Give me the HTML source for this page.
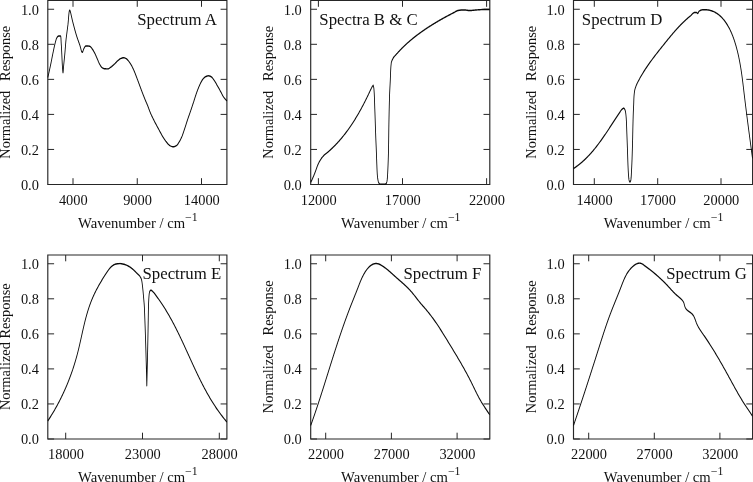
<!DOCTYPE html>
<html lang="en">
<head>
<meta charset="utf-8">
<title>Normalized response spectra A–G</title>
<style>
html,body{margin:0;padding:0;background:#fff;}
body{width:753px;height:482px;overflow:hidden;}
svg{display:block;will-change:transform;filter:grayscale(1);}
svg text{font-family:"Liberation Serif",serif;fill:#111;}
</style>
</head>
<body>
<svg width="753" height="482" viewBox="0 0 753 482">
<rect width="753" height="482" fill="#fff"/>
<g id="panel-A">
<path d="M47.80 0.50H226.90V184.50H47.80Z" fill="none" stroke="#262626" stroke-width="1.15" stroke-linejoin="miter"/>
<path d="M73.00 184.50v-6.3M73.00 0.50v6.3M137.25 184.50v-6.3M137.25 0.50v6.3M201.50 184.50v-6.3M201.50 0.50v6.3M47.80 184.50h6.3M226.90 184.50h-6.3M47.80 149.45h6.3M226.90 149.45h-6.3M47.80 114.40h6.3M226.90 114.40h-6.3M47.80 79.36h6.3M226.90 79.36h-6.3M47.80 44.31h6.3M226.90 44.31h-6.3M47.80 9.26h6.3M226.90 9.26h-6.3" fill="none" stroke="#262626" stroke-width="1.0" stroke-linecap="butt"/>
<g font-size="14.4" text-anchor="end">
<text x="38.90" y="189.80">0.0</text>
<text x="38.90" y="154.75">0.2</text>
<text x="38.90" y="119.70">0.4</text>
<text x="38.90" y="84.66">0.6</text>
<text x="38.90" y="49.61">0.8</text>
<text x="38.90" y="14.56">1.0</text>
</g>
<g font-size="14.4" text-anchor="middle">
<text x="73.30" y="204.70">4000</text>
<text x="137.55" y="204.70">9000</text>
<text x="201.80" y="204.70">14000</text>
</g>
<text x="137.85" y="227.50" font-size="14.65" text-anchor="middle">Wavenumber / cm<tspan font-size="11.8" dy="-6.7">−1</tspan></text>
<text transform="translate(10.20 92.20) rotate(-90)" font-size="14.4" text-anchor="middle" word-spacing="6.2">Normalized Response</text>
<text x="216.90" y="24.65" font-size="16.8" text-anchor="end">Spectrum A</text>
<g transform="scale(0.6 1)"><path d="M79.67 77.50L79.89 76.91L80.12 76.33L80.35 75.74L80.57 75.16L80.79 74.57L81.02 73.98L81.24 73.40L81.46 72.81L81.68 72.23L81.90 71.64L82.12 71.05L82.33 70.46L82.55 69.88L82.76 69.29L82.98 68.70L83.19 68.12L83.40 67.53L83.61 66.94L83.82 66.35L84.03 65.76L84.24 65.18L84.44 64.59L84.65 64.00L84.85 63.41L85.05 62.82L85.24 62.23L85.44 61.64L85.63 61.05L85.82 60.46L86.02 59.87L86.21 59.28L86.40 58.69L86.59 58.10L86.78 57.51L86.97 56.92L87.17 56.33L87.36 55.74L87.56 55.15L87.76 54.56L87.96 53.98L88.16 53.39L88.37 52.80L88.57 52.21L88.78 51.62L88.98 51.03L89.18 50.44L89.39 49.85L89.59 49.26L89.79 48.67L90.00 48.08L90.21 47.49L90.42 46.91L90.64 46.32L90.86 45.73L91.09 45.15L91.32 44.56L91.56 43.98L91.81 43.40L92.07 42.82L92.33 42.24L92.58 41.64L92.84 41.03L93.11 40.42L93.39 39.82L93.70 39.23L94.04 38.67L94.42 38.14L94.85 37.65L95.37 37.17L96.08 36.66L96.92 36.23L97.80 36.01L98.85 36.00L100.08 36.00L100.82 36.00L101.02 36.09L101.19 36.35L101.33 36.76L101.45 37.30L101.54 37.93L101.62 38.65L101.69 39.41L101.76 40.21L101.81 41.00L101.87 41.77L101.93 42.50L101.99 43.15L102.06 43.75L102.13 44.35L102.20 44.95L102.26 45.55L102.32 46.15L102.37 46.75L102.43 47.35L102.48 47.95L102.53 48.55L102.59 49.15L102.64 49.75L102.69 50.35L102.74 50.95L102.79 51.55L102.83 52.15L102.88 52.75L102.94 53.35L102.99 53.95L103.04 54.55L103.09 55.15L103.14 55.76L103.18 56.36L103.23 56.96L103.28 57.56L103.32 58.16L103.37 58.76L103.41 59.36L103.45 59.96L103.50 60.56L103.55 61.16L103.59 61.76L103.64 62.36L103.69 62.96L103.75 63.56L103.80 64.16L103.86 64.76L103.92 65.36L103.98 65.96L104.05 66.59L104.13 67.30L104.21 68.07L104.30 68.87L104.40 69.66L104.49 70.42L104.59 71.11L104.69 71.72L104.79 72.21L104.88 72.54L104.98 72.69L105.07 72.64L105.16 72.39L105.25 71.98L105.34 71.43L105.43 70.78L105.52 70.05L105.61 69.27L105.70 68.47L105.79 67.69L105.88 66.94L105.97 66.27L106.07 65.67L106.17 65.07L106.26 64.47L106.36 63.87L106.46 63.27L106.56 62.68L106.67 62.08L106.77 61.48L106.87 60.88L106.97 60.28L107.08 59.69L107.18 59.09L107.28 58.49L107.38 57.89L107.48 57.29L107.58 56.70L107.68 56.10L107.78 55.50L107.88 54.90L107.97 54.30L108.06 53.70L108.15 53.11L108.24 52.51L108.32 51.91L108.40 51.31L108.49 50.71L108.57 50.11L108.65 49.51L108.72 48.91L108.80 48.31L108.88 47.71L108.96 47.11L109.04 46.51L109.12 45.91L109.20 45.31L109.28 44.71L109.36 44.12L109.45 43.52L109.54 42.92L109.63 42.32L109.72 41.72L109.81 41.12L109.91 40.52L110.01 39.93L110.12 39.33L110.23 38.73L110.35 38.14L110.47 37.54L110.59 36.94L110.72 36.35L110.85 35.75L110.98 35.15L111.11 34.56L111.24 33.96L111.37 33.36L111.50 32.77L111.63 32.17L111.76 31.58L111.88 30.98L112.01 30.38L112.14 29.79L112.27 29.19L112.40 28.59L112.53 28.00L112.66 27.40L112.78 26.81L112.91 26.21L113.04 25.61L113.16 25.02L113.29 24.40L113.40 23.74L113.52 23.04L113.63 22.31L113.74 21.56L113.85 20.79L113.96 20.00L114.07 19.21L114.17 18.41L114.28 17.62L114.38 16.84L114.49 16.07L114.60 15.33L114.71 14.61L114.83 13.93L114.94 13.28L115.06 12.68L115.18 12.14L115.31 11.64L115.44 11.21L115.58 10.85L115.73 10.56L115.88 10.36L116.03 10.23L116.20 10.20L116.37 10.28L116.56 10.46L116.77 10.74L116.99 11.12L117.22 11.57L117.47 12.09L117.72 12.68L117.98 13.32L118.24 14.00L118.52 14.72L118.79 15.47L119.07 16.24L119.35 17.01L119.64 17.78L119.92 18.55L120.20 19.30L120.47 20.02L120.74 20.70L121.01 21.34L121.27 21.93L121.53 22.51L121.78 23.10L122.04 23.68L122.29 24.26L122.55 24.84L122.80 25.42L123.05 26.00L123.31 26.59L123.56 27.17L123.82 27.75L124.08 28.33L124.33 28.91L124.59 29.49L124.86 30.07L125.12 30.65L125.39 31.23L125.66 31.81L125.93 32.39L126.21 32.97L126.49 33.54L126.77 34.12L127.06 34.69L127.36 35.27L127.66 35.84L127.96 36.41L128.27 36.98L128.59 37.55L128.91 38.12L129.23 38.69L129.56 39.26L129.89 39.83L130.22 40.40L130.56 40.96L130.89 41.53L131.23 42.10L131.56 42.66L131.90 43.23L132.23 43.80L132.57 44.36L132.90 44.93L133.22 45.50L133.55 46.13L133.87 46.82L134.19 47.55L134.51 48.31L134.83 49.06L135.15 49.78L135.47 50.46L135.80 51.07L136.13 51.57L136.47 51.97L136.82 52.21L137.18 52.30L137.53 52.15L137.89 51.76L138.25 51.19L138.62 50.51L139.01 49.78L139.43 49.06L139.89 48.41L140.39 47.88L140.95 47.28L141.59 46.70L142.28 46.23L143.03 46.01L143.87 46.00L144.87 46.02L145.94 46.05L147.04 46.09L148.08 46.13L149.02 46.19L149.83 46.31L150.61 46.60L151.35 47.01L152.05 47.50L152.72 48.05L153.35 48.60L153.96 49.13L154.54 49.61L155.09 50.11L155.61 50.62L156.12 51.14L156.60 51.67L157.07 52.21L157.53 52.75L157.99 53.29L158.43 53.82L158.87 54.36L159.28 54.91L159.69 55.46L160.09 56.01L160.49 56.56L160.88 57.12L161.28 57.67L161.67 58.22L162.07 58.78L162.48 59.33L162.87 59.88L163.25 60.44L163.63 61.01L164.01 61.57L164.40 62.12L164.81 62.67L165.23 63.22L165.67 63.75L166.14 64.27L166.64 64.80L167.16 65.34L167.71 65.88L168.29 66.41L168.91 66.89L169.57 67.32L170.28 67.68L171.07 67.98L171.98 68.26L172.96 68.50L173.94 68.66L174.92 68.74L175.92 68.80L176.95 68.85L177.96 68.88L178.95 68.90L179.89 68.87L180.81 68.69L181.71 68.41L182.59 68.05L183.45 67.67L184.28 67.32L185.10 66.98L185.90 66.63L186.68 66.25L187.45 65.86L188.21 65.46L188.96 65.05L189.70 64.65L190.44 64.24L191.16 63.83L191.87 63.40L192.56 62.96L193.25 62.52L193.94 62.08L194.64 61.65L195.35 61.23L196.09 60.83L196.85 60.43L197.62 60.03L198.40 59.63L199.21 59.25L200.03 58.91L200.89 58.62L201.77 58.39L202.72 58.17L203.70 57.97L204.69 57.81L205.67 57.71L206.63 57.72L207.60 57.85L208.56 58.09L209.50 58.38L210.37 58.69L211.16 59.00L211.91 59.39L212.61 59.83L213.29 60.30L213.93 60.78L214.57 61.25L215.18 61.72L215.77 62.21L216.34 62.70L216.90 63.21L217.44 63.71L217.96 64.23L218.47 64.74L218.97 65.26L219.45 65.79L219.92 66.32L220.38 66.86L220.83 67.40L221.27 67.93L221.70 68.48L222.12 69.02L222.54 69.57L222.94 70.12L223.34 70.67L223.74 71.23L224.13 71.78L224.51 72.34L224.88 72.89L225.24 73.45L225.61 74.01L225.96 74.58L226.32 75.14L226.68 75.70L227.04 76.26L227.40 76.82L227.76 77.38L228.12 77.94L228.47 78.51L228.83 79.07L229.18 79.63L229.54 80.19L229.89 80.76L230.24 81.32L230.59 81.88L230.94 82.45L231.28 83.01L231.62 83.57L231.97 84.14L232.31 84.70L232.66 85.27L233.00 85.83L233.35 86.40L233.70 86.96L234.04 87.52L234.39 88.09L234.74 88.65L235.09 89.22L235.44 89.78L235.79 90.34L236.15 90.90L236.50 91.47L236.86 92.03L237.22 92.59L237.58 93.15L237.94 93.71L238.30 94.27L238.66 94.83L239.03 95.39L239.40 95.95L239.77 96.51L240.14 97.07L240.51 97.63L240.88 98.18L241.26 98.74L241.64 99.30L242.01 99.85L242.40 100.41L242.78 100.97L243.17 101.52L243.57 102.07L243.97 102.62L244.37 103.17L244.77 103.72L245.16 104.28L245.55 104.83L245.93 105.39L246.30 105.95L246.66 106.51L247.01 107.07L247.37 107.63L247.71 108.20L248.06 108.76L248.41 109.33L248.76 109.89L249.11 110.46L249.47 111.02L249.83 111.58L250.20 112.14L250.57 112.69L250.96 113.24L251.36 113.80L251.76 114.34L252.18 114.89L252.59 115.44L253.02 115.98L253.45 116.52L253.88 117.07L254.32 117.61L254.77 118.15L255.21 118.69L255.66 119.22L256.11 119.76L256.57 120.30L257.02 120.84L257.47 121.37L257.93 121.91L258.39 122.44L258.85 122.97L259.31 123.51L259.78 124.04L260.25 124.57L260.73 125.10L261.20 125.63L261.68 126.16L262.16 126.68L262.64 127.21L263.12 127.74L263.60 128.27L264.07 128.80L264.55 129.33L265.02 129.86L265.49 130.39L265.96 130.92L266.43 131.45L266.90 131.99L267.37 132.52L267.84 133.05L268.32 133.58L268.81 134.10L269.30 134.63L269.79 135.15L270.30 135.67L270.81 136.18L271.33 136.69L271.86 137.20L272.39 137.72L272.93 138.23L273.47 138.74L274.02 139.24L274.59 139.74L275.16 140.24L275.74 140.73L276.33 141.21L276.94 141.68L277.56 142.15L278.20 142.62L278.84 143.10L279.51 143.58L280.19 144.05L280.89 144.49L281.62 144.90L282.38 145.26L283.18 145.56L284.04 145.86L284.96 146.15L285.92 146.41L286.90 146.62L287.87 146.76L288.82 146.80L289.79 146.72L290.78 146.55L291.77 146.31L292.72 146.03L293.59 145.72L294.36 145.42L295.07 145.05L295.73 144.62L296.35 144.13L296.94 143.61L297.50 143.08L298.05 142.54L298.58 142.03L299.09 141.52L299.59 141.00L300.08 140.47L300.55 139.94L301.01 139.40L301.45 138.86L301.88 138.31L302.30 137.76L302.71 137.21L303.10 136.66L303.48 136.11L303.84 135.55L304.20 134.99L304.54 134.43L304.88 133.86L305.21 133.29L305.54 132.72L305.86 132.15L306.18 131.58L306.49 131.01L306.81 130.43L307.13 129.86L307.45 129.29L307.77 128.72L308.08 128.15L308.39 127.58L308.70 127.01L309.01 126.44L309.31 125.87L309.62 125.29L309.92 124.72L310.22 124.15L310.52 123.57L310.83 123.00L311.13 122.43L311.43 121.85L311.74 121.28L312.05 120.71L312.37 120.14L312.68 119.57L313.00 119.00L313.33 118.43L313.66 117.86L313.99 117.30L314.32 116.73L314.65 116.16L314.98 115.59L315.32 115.03L315.65 114.46L315.99 113.89L316.32 113.33L316.65 112.76L316.98 112.19L317.31 111.62L317.64 111.06L317.96 110.49L318.28 109.92L318.60 109.35L318.92 108.78L319.24 108.21L319.56 107.64L319.87 107.07L320.19 106.50L320.51 105.93L320.82 105.36L321.14 104.78L321.45 104.21L321.76 103.64L322.08 103.07L322.39 102.50L322.70 101.93L323.02 101.36L323.32 100.79L323.63 100.21L323.93 99.64L324.23 99.07L324.54 98.49L324.84 97.92L325.14 97.35L325.44 96.77L325.75 96.20L326.06 95.63L326.37 95.06L326.69 94.49L327.01 93.92L327.34 93.35L327.68 92.79L328.01 92.22L328.36 91.66L328.70 91.09L329.05 90.53L329.40 89.96L329.76 89.40L330.12 88.84L330.49 88.28L330.87 87.72L331.25 87.16L331.64 86.61L332.04 86.06L332.44 85.51L332.86 84.97L333.28 84.42L333.71 83.87L334.14 83.31L334.58 82.76L335.03 82.21L335.50 81.67L335.98 81.14L336.49 80.62L337.02 80.12L337.58 79.64L338.16 79.18L338.80 78.71L339.48 78.24L340.21 77.79L340.97 77.36L341.77 76.98L342.59 76.67L343.44 76.43L344.37 76.21L345.35 76.01L346.36 75.87L347.35 75.80L348.32 75.85L349.32 76.00L350.31 76.23L351.23 76.50L352.04 76.77L352.78 77.10L353.48 77.50L354.15 77.96L354.78 78.46L355.39 78.97L355.98 79.50L356.56 80.02L357.13 80.51L357.69 81.01L358.23 81.51L358.76 82.02L359.27 82.54L359.77 83.06L360.27 83.59L360.76 84.11L361.26 84.64L361.75 85.16L362.25 85.69L362.75 86.21L363.25 86.73L363.74 87.25L364.23 87.78L364.72 88.30L365.21 88.82L365.70 89.35L366.19 89.88L366.67 90.40L367.16 90.93L367.64 91.45L368.11 91.99L368.58 92.52L369.03 93.06L369.48 93.60L369.94 94.14L370.40 94.68L370.87 95.21L371.36 95.74L371.86 96.25L372.39 96.75L372.95 97.24L373.54 97.73L374.15 98.20L374.79 98.67L375.46 99.13L376.14 99.57L376.84 100.00L377.56 100.41L378.33 100.80" fill="none" stroke="#0a0a0a" stroke-width="1.45" stroke-linejoin="round" stroke-linecap="butt"/></g>
</g>
<g id="panel-B">
<path d="M310.70 0.50H489.80V184.50H310.70Z" fill="none" stroke="#262626" stroke-width="1.15" stroke-linejoin="miter"/>
<path d="M318.40 184.50v-6.3M318.40 0.50v6.3M402.50 184.50v-6.3M402.50 0.50v6.3M486.60 184.50v-6.3M486.60 0.50v6.3M310.70 184.50h6.3M489.80 184.50h-6.3M310.70 149.45h6.3M489.80 149.45h-6.3M310.70 114.40h6.3M489.80 114.40h-6.3M310.70 79.36h6.3M489.80 79.36h-6.3M310.70 44.31h6.3M489.80 44.31h-6.3M310.70 9.26h6.3M489.80 9.26h-6.3" fill="none" stroke="#262626" stroke-width="1.0" stroke-linecap="butt"/>
<g font-size="14.4" text-anchor="end">
<text x="301.80" y="189.80">0.0</text>
<text x="301.80" y="154.75">0.2</text>
<text x="301.80" y="119.70">0.4</text>
<text x="301.80" y="84.66">0.6</text>
<text x="301.80" y="49.61">0.8</text>
<text x="301.80" y="14.56">1.0</text>
</g>
<g font-size="14.4" text-anchor="middle">
<text x="318.70" y="204.70">12000</text>
<text x="402.80" y="204.70">17000</text>
<text x="486.90" y="204.70">22000</text>
</g>
<text x="400.75" y="227.50" font-size="14.65" text-anchor="middle">Wavenumber / cm<tspan font-size="11.8" dy="-6.7">−1</tspan></text>
<text transform="translate(273.10 92.20) rotate(-90)" font-size="14.4" text-anchor="middle" word-spacing="6.2">Normalized Response</text>
<text x="319.30" y="24.65" font-size="16.8" text-anchor="start">Spectra B &amp; C</text>
<g transform="scale(0.6 1)"><path d="M517.83 182.40L518.28 181.86L518.73 181.32L519.17 180.77L519.60 180.23L520.03 179.68L520.45 179.13L520.87 178.58L521.28 178.02L521.68 177.47L522.07 176.91L522.46 176.36L522.85 175.80L523.23 175.24L523.61 174.68L523.98 174.12L524.36 173.55L524.73 172.99L525.09 172.43L525.46 171.86L525.82 171.30L526.17 170.73L526.51 170.16L526.84 169.59L527.17 169.01L527.50 168.44L527.84 167.87L528.17 167.30L528.52 166.73L528.87 166.16L529.23 165.60L529.61 165.04L530.01 164.49L530.42 163.94L530.85 163.39L531.29 162.85L531.75 162.30L532.22 161.76L532.71 161.23L533.21 160.70L533.72 160.19L534.25 159.68L534.80 159.17L535.36 158.67L535.95 158.18L536.56 157.69L537.19 157.21L537.83 156.74L538.49 156.27L539.16 155.83L539.84 155.39L540.56 154.98L541.30 154.58L542.08 154.19L542.87 153.82L543.67 153.44L544.48 153.07L545.28 152.70L546.07 152.31L546.83 151.92L547.59 151.52L548.35 151.12L549.10 150.72L549.85 150.32L550.59 149.91L551.33 149.50L552.06 149.08L552.79 148.66L553.52 148.25L554.25 147.83L554.97 147.40L555.69 146.98L556.41 146.55L557.12 146.13L557.83 145.70L558.54 145.26L559.24 144.83L559.94 144.39L560.63 143.96L561.32 143.52L562.01 143.08L562.69 142.63L563.37 142.18L564.05 141.74L564.72 141.29L565.39 140.83L566.06 140.38L566.72 139.92L567.38 139.46L568.04 139.00L568.69 138.54L569.34 138.08L569.99 137.61L570.63 137.15L571.26 136.68L571.90 136.21L572.53 135.74L573.16 135.27L573.78 134.79L574.41 134.32L575.03 133.84L575.64 133.36L576.25 132.88L576.86 132.40L577.47 131.91L578.07 131.43L578.67 130.94L579.27 130.45L579.86 129.96L580.45 129.47L581.03 128.98L581.62 128.49L582.20 128.00L582.78 127.50L583.35 127.00L583.92 126.50L584.49 126.00L585.06 125.50L585.62 125.00L586.18 124.50L586.74 123.99L587.29 123.49L587.84 122.98L588.39 122.47L588.94 121.97L589.48 121.46L590.02 120.95L590.56 120.44L591.09 119.92L591.62 119.41L592.15 118.89L592.68 118.38L593.20 117.86L593.73 117.34L594.24 116.82L594.76 116.30L595.28 115.78L595.79 115.26L596.30 114.74L596.80 114.22L597.31 113.69L597.81 113.17L598.31 112.65L598.81 112.12L599.30 111.59L599.80 111.07L600.29 110.54L600.78 110.01L601.26 109.48L601.75 108.95L602.23 108.42L602.71 107.88L603.19 107.35L603.66 106.82L604.13 106.28L604.61 105.75L605.08 105.21L605.54 104.68L606.01 104.14L606.47 103.61L606.94 103.07L607.40 102.53L607.85 101.99L608.31 101.45L608.76 100.91L609.22 100.37L609.67 99.83L610.12 99.29L610.56 98.75L611.01 98.20L611.45 97.66L611.90 97.12L612.34 96.57L612.78 96.03L613.22 95.49L613.66 94.94L614.10 94.40L614.52 93.85L614.95 93.30L615.37 92.75L615.79 92.20L616.21 91.65L616.63 91.10L617.06 90.55L617.49 90.01L617.93 89.46L618.39 88.92L618.84 88.38L619.29 87.84L619.76 87.30L620.25 86.77L620.77 86.26L621.36 85.77L622.00 85.30L622.23 85.89L622.48 86.48L622.71 87.07L622.92 87.66L623.08 88.25L623.19 88.84L623.27 89.44L623.35 90.03L623.42 90.63L623.49 91.23L623.56 91.82L623.62 92.42L623.68 93.02L623.74 93.62L623.79 94.22L623.84 94.82L623.89 95.42L623.93 96.03L623.97 96.63L624.02 97.23L624.05 97.83L624.09 98.44L624.13 99.04L624.16 99.65L624.19 100.25L624.23 100.85L624.26 101.46L624.29 102.06L624.32 102.67L624.35 103.27L624.38 103.87L624.41 104.48L624.44 105.08L624.47 105.69L624.51 106.29L624.54 106.89L624.57 107.49L624.61 108.10L624.65 108.70L624.69 109.30L624.72 109.90L624.76 110.51L624.80 111.11L624.84 111.71L624.87 112.31L624.91 112.91L624.95 113.51L624.98 114.12L625.02 114.72L625.05 115.32L625.09 115.92L625.12 116.52L625.15 117.13L625.19 117.73L625.22 118.33L625.25 118.93L625.29 119.53L625.32 120.14L625.35 120.74L625.39 121.34L625.42 121.94L625.45 122.54L625.48 123.15L625.51 123.75L625.55 124.35L625.58 124.95L625.61 125.55L625.64 126.16L625.68 126.76L625.71 127.36L625.74 127.96L625.77 128.57L625.81 129.17L625.84 129.77L625.87 130.37L625.91 130.97L625.94 131.58L625.98 132.18L626.01 132.78L626.05 133.38L626.08 133.98L626.12 134.58L626.15 135.19L626.19 135.79L626.23 136.39L626.26 136.99L626.30 137.59L626.34 138.20L626.38 138.80L626.42 139.40L626.46 140.00L626.50 140.60L626.54 141.21L626.59 141.81L626.63 142.41L626.67 143.01L626.72 143.61L626.76 144.21L626.80 144.82L626.85 145.42L626.89 146.02L626.93 146.62L626.98 147.22L627.02 147.82L627.06 148.43L627.10 149.03L627.14 149.63L627.18 150.23L627.22 150.83L627.26 151.44L627.29 152.04L627.33 152.64L627.37 153.24L627.40 153.84L627.44 154.45L627.47 155.05L627.51 155.65L627.54 156.25L627.57 156.85L627.61 157.46L627.64 158.06L627.68 158.66L627.71 159.26L627.75 159.86L627.79 160.47L627.82 161.07L627.86 161.67L627.90 162.27L627.94 162.87L627.98 163.47L628.02 164.08L628.06 164.68L628.10 165.28L628.14 165.88L628.17 166.49L628.21 167.09L628.25 167.69L628.29 168.29L628.33 168.90L628.37 169.50L628.42 170.10L628.46 170.70L628.51 171.30L628.56 171.91L628.62 172.51L628.68 173.11L628.74 173.71L628.81 174.31L628.88 174.91L628.97 175.51L629.06 176.12L629.16 176.73L629.27 177.34L629.39 177.94L629.53 178.54L629.69 179.14L629.86 179.73L630.04 180.31L630.25 180.88L630.49 181.47L630.83 182.13L631.26 182.80L631.77 183.39L632.34 183.82L632.96 184.02L633.78 184.12L634.78 184.20L635.87 184.26L636.99 184.29L638.03 184.30L639.11 184.28L640.25 184.24L641.33 184.17L642.26 184.08L642.94 183.97L643.50 183.67L644.00 183.14L644.43 182.49L644.76 181.79L644.99 181.15L645.13 180.58L645.26 180.00L645.37 179.42L645.48 178.83L645.58 178.23L645.66 177.63L645.74 177.03L645.82 176.43L645.89 175.82L645.95 175.21L646.00 174.60L646.06 173.99L646.11 173.38L646.16 172.77L646.20 172.16L646.25 171.55L646.30 170.95L646.35 170.34L646.39 169.74L646.44 169.14L646.49 168.54L646.53 167.94L646.58 167.34L646.62 166.73L646.66 166.13L646.71 165.53L646.75 164.93L646.79 164.33L646.83 163.73L646.86 163.12L646.90 162.52L646.94 161.92L646.97 161.32L647.01 160.72L647.04 160.11L647.08 159.51L647.11 158.91L647.14 158.31L647.17 157.70L647.20 157.10L647.23 156.50L647.26 155.90L647.29 155.30L647.31 154.69L647.34 154.09L647.36 153.49L647.39 152.89L647.41 152.28L647.44 151.68L647.46 151.08L647.48 150.48L647.50 149.88L647.53 149.27L647.55 148.67L647.57 148.07L647.58 147.47L647.60 146.86L647.62 146.26L647.64 145.66L647.65 145.06L647.67 144.46L647.69 143.85L647.70 143.25L647.72 142.65L647.73 142.05L647.75 141.44L647.76 140.84L647.77 140.24L647.79 139.64L647.80 139.04L647.81 138.43L647.83 137.83L647.84 137.23L647.85 136.63L647.87 136.02L647.88 135.42L647.89 134.82L647.90 134.22L647.92 133.61L647.93 133.01L647.94 132.41L647.96 131.81L647.97 131.21L647.98 130.60L648.00 130.00L648.01 129.40L648.03 128.80L648.04 128.19L648.05 127.59L648.07 126.99L648.09 126.39L648.10 125.79L648.12 125.18L648.14 124.58L648.16 123.98L648.17 123.38L648.19 122.77L648.21 122.17L648.23 121.57L648.25 120.97L648.27 120.37L648.29 119.76L648.31 119.16L648.33 118.56L648.35 117.96L648.37 117.35L648.39 116.75L648.41 116.15L648.43 115.55L648.45 114.94L648.47 114.34L648.49 113.74L648.51 113.14L648.53 112.54L648.55 111.93L648.57 111.33L648.60 110.73L648.62 110.13L648.64 109.52L648.66 108.92L648.69 108.32L648.71 107.72L648.74 107.12L648.76 106.51L648.79 105.91L648.81 105.31L648.84 104.71L648.86 104.11L648.89 103.50L648.91 102.90L648.94 102.30L648.97 101.70L649.00 101.09L649.03 100.49L649.05 99.89L649.08 99.29L649.11 98.69L649.14 98.08L649.17 97.48L649.21 96.88L649.24 96.28L649.27 95.68L649.30 95.07L649.33 94.47L649.37 93.87L649.41 93.27L649.45 92.67L649.49 92.07L649.53 91.46L649.58 90.86L649.63 90.26L649.68 89.66L649.73 89.06L649.78 88.46L649.83 87.85L649.88 87.25L649.94 86.65L649.99 86.05L650.04 85.45L650.10 84.85L650.15 84.25L650.20 83.64L650.25 83.04L650.31 82.44L650.36 81.84L650.40 81.24L650.45 80.64L650.50 80.03L650.54 79.43L650.58 78.83L650.62 78.23L650.66 77.63L650.70 77.02L650.73 76.42L650.77 75.82L650.80 75.22L650.84 74.62L650.88 74.01L650.91 73.41L650.95 72.81L650.99 72.21L651.03 71.61L651.07 71.00L651.12 70.40L651.17 69.80L651.22 69.20L651.28 68.60L651.33 68.00L651.40 67.40L651.47 66.80L651.56 66.20L651.65 65.60L651.75 65.00L651.85 64.40L651.95 63.80L652.06 63.20L652.17 62.60L652.45 62.00L652.77 61.42L653.11 60.84L653.49 60.28L653.89 59.72L654.32 59.18L654.77 58.66L655.24 58.15L655.77 57.65L656.34 57.17L656.96 56.70L657.61 56.23L658.29 55.77L658.98 55.32L659.68 54.87L660.38 54.42L661.07 53.97L661.74 53.52L662.41 53.07L663.08 52.62L663.75 52.17L664.43 51.73L665.11 51.28L665.80 50.84L666.49 50.40L667.18 49.96L667.88 49.52L668.58 49.09L669.28 48.66L669.99 48.23L670.70 47.80L671.41 47.38L672.13 46.95L672.85 46.53L673.57 46.11L674.30 45.69L675.03 45.28L675.76 44.86L676.50 44.45L677.24 44.04L677.99 43.64L678.73 43.23L679.48 42.83L680.23 42.43L680.99 42.03L681.74 41.63L682.50 41.24L683.27 40.84L684.03 40.45L684.80 40.06L685.57 39.67L686.35 39.29L687.13 38.90L687.91 38.52L688.69 38.14L689.47 37.76L690.26 37.38L691.05 37.01L691.84 36.64L692.63 36.27L693.43 35.90L694.23 35.53L695.03 35.16L695.83 34.80L696.63 34.44L697.44 34.07L698.25 33.72L699.06 33.36L699.87 33.00L700.69 32.65L701.50 32.29L702.32 31.94L703.14 31.59L703.96 31.24L704.79 30.90L705.61 30.55L706.44 30.21L707.27 29.87L708.10 29.53L708.94 29.19L709.77 28.85L710.61 28.52L711.45 28.18L712.29 27.85L713.13 27.52L713.97 27.19L714.81 26.86L715.66 26.53L716.51 26.21L717.35 25.88L718.20 25.56L719.06 25.24L719.91 24.92L720.76 24.60L721.62 24.28L722.48 23.96L723.34 23.65L724.20 23.33L725.06 23.02L725.92 22.71L726.78 22.40L727.64 22.09L728.51 21.78L729.38 21.47L730.24 21.17L731.11 20.86L731.98 20.56L732.86 20.26L733.73 19.96L734.60 19.66L735.48 19.36L736.35 19.06L737.23 18.76L738.11 18.47L738.98 18.17L739.86 17.88L740.74 17.59L741.62 17.30L742.51 17.01L743.39 16.72L744.28 16.43L745.16 16.14L746.05 15.86L746.93 15.57L747.82 15.29L748.71 15.00L749.60 14.72L750.49 14.44L751.38 14.16L752.27 13.88L753.16 13.60L754.06 13.32L754.95 13.05L755.85 12.77L756.74 12.49L757.63 12.19L758.51 11.86L759.40 11.54L760.29 11.23L761.18 10.94L762.09 10.71L763.02 10.54L763.97 10.43L764.94 10.33L765.92 10.24L766.92 10.16L767.93 10.09L768.95 10.02L769.97 9.97L770.99 9.93L772.00 9.91L773.01 9.90L774.01 9.92L775.01 9.97L776.01 10.05L777.01 10.14L778.01 10.23L779.01 10.33L780.01 10.41L781.01 10.47L782.01 10.50L783.01 10.50L784.02 10.48L785.02 10.45L786.02 10.41L787.02 10.36L788.03 10.30L789.03 10.24L790.03 10.18L791.04 10.11L792.04 10.05L793.04 9.99L794.05 9.94L795.05 9.90L796.06 9.86L797.06 9.81L798.07 9.77L799.07 9.73L800.07 9.68L801.08 9.64L802.08 9.60L803.09 9.57L804.09 9.54L805.10 9.52L806.10 9.51L807.11 9.50L808.12 9.50L809.12 9.50L810.13 9.50L811.13 9.50L812.14 9.50L813.15 9.50L814.15 9.50L815.16 9.50L816.17 9.50" fill="none" stroke="#0a0a0a" stroke-width="1.45" stroke-linejoin="round" stroke-linecap="butt"/></g>
</g>
<g id="panel-D">
<path d="M573.50 0.50H752.60V184.50H573.50Z" fill="none" stroke="#262626" stroke-width="1.15" stroke-linejoin="miter"/>
<path d="M594.30 184.50v-6.3M594.30 0.50v6.3M657.70 184.50v-6.3M657.70 0.50v6.3M721.00 184.50v-6.3M721.00 0.50v6.3M573.50 184.50h6.3M752.60 184.50h-6.3M573.50 149.45h6.3M752.60 149.45h-6.3M573.50 114.40h6.3M752.60 114.40h-6.3M573.50 79.36h6.3M752.60 79.36h-6.3M573.50 44.31h6.3M752.60 44.31h-6.3M573.50 9.26h6.3M752.60 9.26h-6.3" fill="none" stroke="#262626" stroke-width="1.0" stroke-linecap="butt"/>
<g font-size="14.4" text-anchor="end">
<text x="564.60" y="189.80">0.0</text>
<text x="564.60" y="154.75">0.2</text>
<text x="564.60" y="119.70">0.4</text>
<text x="564.60" y="84.66">0.6</text>
<text x="564.60" y="49.61">0.8</text>
<text x="564.60" y="14.56">1.0</text>
</g>
<g font-size="14.4" text-anchor="middle">
<text x="594.60" y="204.70">14000</text>
<text x="658.00" y="204.70">17000</text>
<text x="721.30" y="204.70">20000</text>
</g>
<text x="663.55" y="227.50" font-size="14.65" text-anchor="middle">Wavenumber / cm<tspan font-size="11.8" dy="-6.7">−1</tspan></text>
<text transform="translate(535.90 92.20) rotate(-90)" font-size="14.4" text-anchor="middle" word-spacing="6.2">Normalized Response</text>
<text x="581.80" y="24.65" font-size="16.8" text-anchor="start">Spectrum D</text>
<g transform="scale(0.6 1)"><path d="M955.83 168.60L956.67 168.26L957.50 167.92L958.32 167.58L959.14 167.23L959.96 166.88L960.77 166.53L961.57 166.17L962.38 165.81L963.17 165.44L963.97 165.08L964.75 164.71L965.54 164.33L966.32 163.96L967.09 163.58L967.86 163.20L968.63 162.81L969.39 162.42L970.14 162.02L970.90 161.62L971.64 161.22L972.39 160.81L973.12 160.41L973.86 160.00L974.59 159.58L975.31 159.17L976.03 158.75L976.75 158.33L977.46 157.91L978.17 157.48L978.87 157.05L979.57 156.62L980.26 156.19L980.95 155.75L981.64 155.31L982.32 154.87L983.00 154.43L983.68 153.99L984.35 153.54L985.02 153.09L985.68 152.64L986.34 152.19L986.99 151.73L987.64 151.28L988.29 150.82L988.94 150.36L989.58 149.89L990.22 149.43L990.85 148.96L991.49 148.50L992.11 148.03L992.74 147.56L993.36 147.09L993.98 146.62L994.60 146.14L995.21 145.67L995.82 145.19L996.42 144.71L997.03 144.23L997.63 143.75L998.23 143.27L998.82 142.78L999.42 142.30L1000.01 141.81L1000.60 141.33L1001.19 140.84L1001.77 140.35L1002.36 139.86L1002.93 139.37L1003.51 138.88L1004.09 138.39L1004.66 137.89L1005.23 137.40L1005.80 136.91L1006.37 136.41L1006.94 135.91L1007.50 135.42L1008.07 134.92L1008.63 134.42L1009.19 133.93L1009.75 133.43L1010.31 132.93L1010.87 132.43L1011.43 131.93L1011.98 131.43L1012.53 130.93L1013.08 130.42L1013.64 129.92L1014.19 129.42L1014.74 128.92L1015.28 128.41L1015.83 127.91L1016.38 127.41L1016.93 126.90L1017.48 126.40L1018.03 125.90L1018.58 125.40L1019.13 124.89L1019.68 124.39L1020.22 123.89L1020.77 123.38L1021.32 122.88L1021.86 122.37L1022.41 121.87L1022.96 121.37L1023.50 120.86L1024.05 120.36L1024.60 119.86L1025.15 119.35L1025.70 118.85L1026.25 118.35L1026.80 117.85L1027.36 117.34L1027.91 116.84L1028.46 116.34L1029.01 115.84L1029.57 115.34L1030.12 114.84L1030.68 114.34L1031.24 113.84L1031.81 113.34L1032.38 112.85L1032.95 112.35L1033.51 111.84L1034.06 111.32L1034.62 110.80L1035.20 110.30L1035.81 109.83L1036.47 109.40L1037.20 109.01L1038.07 108.59L1038.97 108.27L1039.75 108.23L1040.51 108.60L1041.17 109.19L1041.59 109.74L1041.90 110.28L1042.16 110.85L1042.39 111.44L1042.58 112.05L1042.75 112.66L1042.89 113.28L1043.02 113.88L1043.13 114.47L1043.24 115.07L1043.34 115.66L1043.43 116.26L1043.52 116.86L1043.60 117.46L1043.67 118.06L1043.74 118.66L1043.81 119.27L1043.87 119.87L1043.93 120.47L1043.98 121.07L1044.03 121.67L1044.08 122.27L1044.13 122.87L1044.17 123.47L1044.21 124.07L1044.25 124.67L1044.29 125.27L1044.32 125.87L1044.36 126.48L1044.39 127.08L1044.43 127.68L1044.46 128.28L1044.49 128.88L1044.52 129.48L1044.56 130.08L1044.59 130.68L1044.63 131.28L1044.67 131.88L1044.70 132.49L1044.74 133.09L1044.78 133.69L1044.82 134.29L1044.86 134.89L1044.89 135.49L1044.93 136.09L1044.97 136.69L1045.01 137.29L1045.05 137.89L1045.08 138.49L1045.12 139.10L1045.16 139.70L1045.20 140.30L1045.24 140.90L1045.27 141.50L1045.31 142.10L1045.35 142.70L1045.38 143.30L1045.42 143.90L1045.45 144.50L1045.49 145.10L1045.52 145.70L1045.56 146.31L1045.60 146.91L1045.63 147.51L1045.67 148.11L1045.70 148.71L1045.74 149.31L1045.77 149.91L1045.81 150.51L1045.84 151.11L1045.87 151.71L1045.91 152.31L1045.94 152.92L1045.97 153.52L1046.01 154.12L1046.04 154.72L1046.07 155.32L1046.10 155.92L1046.13 156.52L1046.16 157.12L1046.19 157.72L1046.23 158.33L1046.26 158.93L1046.29 159.53L1046.32 160.13L1046.36 160.73L1046.39 161.33L1046.43 161.93L1046.46 162.53L1046.50 163.13L1046.54 163.73L1046.58 164.33L1046.62 164.93L1046.66 165.54L1046.71 166.14L1046.75 166.74L1046.79 167.34L1046.84 167.94L1046.88 168.54L1046.93 169.14L1046.97 169.74L1047.02 170.34L1047.08 170.95L1047.13 171.55L1047.19 172.15L1047.25 172.75L1047.31 173.35L1047.38 173.95L1047.45 174.55L1047.52 175.15L1047.60 175.74L1047.69 176.34L1047.77 176.95L1047.87 177.56L1047.98 178.18L1048.10 178.79L1048.25 179.40L1048.42 179.98L1048.63 180.55L1048.89 181.09L1049.46 181.72L1050.07 181.99L1050.62 181.63L1051.10 180.95L1051.36 180.31L1051.50 179.74L1051.62 179.17L1051.73 178.58L1051.83 177.99L1051.91 177.40L1051.99 176.80L1052.06 176.19L1052.12 175.58L1052.17 174.97L1052.22 174.36L1052.27 173.75L1052.31 173.13L1052.36 172.52L1052.41 171.91L1052.46 171.31L1052.52 170.71L1052.58 170.11L1052.63 169.51L1052.68 168.91L1052.74 168.31L1052.79 167.71L1052.84 167.10L1052.89 166.50L1052.94 165.90L1052.98 165.30L1053.03 164.70L1053.07 164.10L1053.12 163.50L1053.16 162.90L1053.20 162.30L1053.24 161.70L1053.28 161.10L1053.32 160.50L1053.36 159.90L1053.40 159.30L1053.43 158.69L1053.47 158.09L1053.50 157.49L1053.53 156.89L1053.57 156.29L1053.60 155.69L1053.63 155.09L1053.66 154.49L1053.69 153.89L1053.72 153.29L1053.75 152.68L1053.78 152.08L1053.81 151.48L1053.84 150.88L1053.87 150.28L1053.90 149.68L1053.93 149.08L1053.96 148.48L1053.99 147.88L1054.02 147.27L1054.05 146.67L1054.08 146.07L1054.11 145.47L1054.13 144.87L1054.16 144.27L1054.19 143.67L1054.22 143.07L1054.24 142.47L1054.27 141.87L1054.30 141.26L1054.32 140.66L1054.35 140.06L1054.37 139.46L1054.39 138.86L1054.42 138.26L1054.44 137.66L1054.46 137.06L1054.48 136.46L1054.50 135.85L1054.52 135.25L1054.54 134.65L1054.56 134.05L1054.58 133.45L1054.60 132.85L1054.63 132.25L1054.65 131.65L1054.67 131.04L1054.69 130.44L1054.71 129.84L1054.73 129.24L1054.75 128.64L1054.78 128.04L1054.80 127.44L1054.82 126.84L1054.85 126.24L1054.87 125.63L1054.90 125.03L1054.92 124.43L1054.95 123.83L1054.98 123.23L1055.00 122.63L1055.03 122.03L1055.06 121.43L1055.08 120.83L1055.11 120.22L1055.14 119.62L1055.17 119.02L1055.20 118.42L1055.23 117.82L1055.26 117.22L1055.29 116.62L1055.32 116.02L1055.35 115.42L1055.38 114.82L1055.42 114.21L1055.45 113.61L1055.49 113.01L1055.52 112.41L1055.56 111.81L1055.61 111.21L1055.65 110.61L1055.70 110.01L1055.75 109.41L1055.79 108.81L1055.84 108.21L1055.89 107.61L1055.94 107.01L1055.99 106.41L1056.04 105.81L1056.08 105.20L1056.13 104.60L1056.17 104.00L1056.20 103.40L1056.24 102.80L1056.27 102.20L1056.30 101.60L1056.33 101.00L1056.36 100.40L1056.39 99.79L1056.43 99.19L1056.47 98.59L1056.52 97.99L1056.57 97.39L1056.64 96.79L1056.70 96.19L1056.78 95.59L1056.87 94.98L1056.96 94.38L1057.06 93.78L1057.17 93.18L1057.28 92.59L1057.41 91.99L1057.54 91.40L1057.69 90.81L1057.87 90.23L1058.09 89.64L1058.34 89.06L1058.63 88.48L1058.94 87.90L1059.27 87.33L1059.61 86.76L1059.96 86.19L1060.31 85.63L1060.67 85.08L1061.06 84.53L1061.47 83.98L1061.90 83.44L1062.35 82.90L1062.81 82.36L1063.27 81.82L1063.74 81.29L1064.22 80.76L1064.69 80.22L1065.15 79.69L1065.63 79.16L1066.10 78.63L1066.58 78.11L1067.07 77.58L1067.56 77.06L1068.05 76.53L1068.55 76.01L1069.06 75.49L1069.56 74.97L1070.07 74.45L1070.59 73.93L1071.10 73.42L1071.62 72.90L1072.14 72.39L1072.67 71.88L1073.20 71.37L1073.73 70.86L1074.27 70.35L1074.81 69.85L1075.36 69.35L1075.91 68.84L1076.46 68.34L1077.02 67.84L1077.58 67.34L1078.14 66.84L1078.71 66.35L1079.28 65.85L1079.85 65.36L1080.42 64.86L1080.99 64.37L1081.56 63.88L1082.14 63.39L1082.72 62.90L1083.31 62.41L1083.89 61.92L1084.48 61.43L1085.08 60.95L1085.67 60.46L1086.27 59.98L1086.86 59.50L1087.46 59.02L1088.06 58.53L1088.66 58.05L1089.27 57.57L1089.87 57.09L1090.48 56.61L1091.09 56.14L1091.70 55.66L1092.31 55.18L1092.92 54.71L1093.54 54.23L1094.15 53.76L1094.77 53.28L1095.38 52.81L1096.00 52.34L1096.62 51.86L1097.24 51.39L1097.86 50.92L1098.48 50.44L1099.10 49.97L1099.72 49.50L1100.34 49.03L1100.97 48.56L1101.59 48.09L1102.22 47.62L1102.84 47.15L1103.47 46.68L1104.09 46.21L1104.72 45.74L1105.35 45.27L1105.97 44.80L1106.60 44.33L1107.22 43.86L1107.85 43.39L1108.47 42.92L1109.10 42.45L1109.73 41.98L1110.35 41.51L1110.98 41.05L1111.61 40.58L1112.24 40.11L1112.88 39.65L1113.51 39.18L1114.15 38.72L1114.79 38.25L1115.42 37.79L1116.06 37.32L1116.70 36.86L1117.34 36.40L1117.98 35.93L1118.62 35.47L1119.27 35.01L1119.91 34.55L1120.56 34.09L1121.21 33.63L1121.86 33.18L1122.51 32.72L1123.16 32.26L1123.82 31.81L1124.48 31.36L1125.14 30.91L1125.81 30.46L1126.47 30.01L1127.14 29.56L1127.81 29.11L1128.49 28.67L1129.16 28.22L1129.84 27.78L1130.52 27.34L1131.21 26.90L1131.89 26.46L1132.58 26.03L1133.28 25.59L1133.97 25.16L1134.67 24.73L1135.37 24.30L1136.08 23.87L1136.79 23.45L1137.50 23.02L1138.21 22.60L1138.93 22.18L1139.65 21.76L1140.38 21.35L1141.11 20.94L1141.84 20.53L1142.58 20.12L1143.32 19.71L1144.06 19.31L1144.81 18.91L1145.56 18.51L1146.31 18.11L1147.07 17.72L1147.83 17.33L1148.60 16.94L1149.37 16.56L1150.14 16.18L1150.92 15.78L1151.68 15.34L1152.44 14.86L1153.20 14.38L1153.97 13.91L1154.75 13.47L1155.54 13.09L1156.37 12.78L1157.21 12.58L1158.10 12.50L1159.09 12.50L1160.15 12.50L1161.08 12.51L1161.84 12.95L1162.51 13.47L1163.10 13.37L1163.62 12.87L1164.12 12.21L1164.65 11.57L1165.29 11.14L1166.06 10.84L1166.94 10.54L1167.90 10.27L1168.91 10.05L1169.93 9.89L1170.94 9.81L1171.92 9.80L1172.91 9.80L1173.91 9.81L1174.92 9.81L1175.93 9.82L1176.95 9.83L1177.95 9.84L1178.95 9.86L1179.94 9.91L1180.93 10.01L1181.92 10.13L1182.90 10.28L1183.88 10.44L1184.85 10.60L1185.80 10.77L1186.75 10.95L1187.69 11.17L1188.62 11.40L1189.54 11.65L1190.45 11.91L1191.35 12.18L1192.23 12.46L1193.09 12.75L1193.95 13.06L1194.80 13.39L1195.63 13.74L1196.45 14.09L1197.25 14.45L1198.04 14.81L1198.82 15.19L1199.58 15.58L1200.33 15.99L1201.06 16.40L1201.79 16.82L1202.50 17.24L1203.19 17.67L1203.87 18.11L1204.54 18.56L1205.20 19.02L1205.85 19.48L1206.48 19.94L1207.11 20.42L1207.72 20.89L1208.32 21.37L1208.91 21.86L1209.49 22.35L1210.06 22.84L1210.61 23.35L1211.16 23.85L1211.70 24.36L1212.23 24.87L1212.74 25.38L1213.25 25.90L1213.75 26.42L1214.24 26.95L1214.73 27.47L1215.20 28.01L1215.67 28.54L1216.12 29.07L1216.57 29.61L1217.01 30.15L1217.44 30.69L1217.86 31.24L1218.28 31.79L1218.69 32.34L1219.09 32.89L1219.48 33.44L1219.87 34.00L1220.25 34.55L1220.63 35.11L1220.99 35.67L1221.35 36.23L1221.71 36.79L1222.06 37.36L1222.40 37.92L1222.74 38.49L1223.07 39.06L1223.40 39.62L1223.72 40.19L1224.04 40.76L1224.35 41.33L1224.66 41.91L1224.96 42.48L1225.26 43.05L1225.55 43.63L1225.84 44.21L1226.12 44.78L1226.40 45.36L1226.68 45.94L1226.95 46.52L1227.22 47.10L1227.48 47.68L1227.74 48.26L1228.00 48.84L1228.25 49.42L1228.51 50.00L1228.75 50.58L1229.00 51.17L1229.24 51.75L1229.47 52.34L1229.71 52.92L1229.94 53.51L1230.17 54.09L1230.39 54.68L1230.61 55.26L1230.83 55.85L1231.04 56.44L1231.25 57.03L1231.45 57.62L1231.65 58.20L1231.85 58.79L1232.04 59.38L1232.24 59.97L1232.43 60.56L1232.61 61.15L1232.80 61.75L1232.99 62.34L1233.17 62.93L1233.35 63.52L1233.52 64.11L1233.70 64.70L1233.87 65.30L1234.04 65.89L1234.21 66.48L1234.38 67.08L1234.54 67.67L1234.71 68.26L1234.87 68.86L1235.02 69.45L1235.18 70.04L1235.33 70.64L1235.48 71.23L1235.63 71.83L1235.77 72.42L1235.91 73.02L1236.06 73.61L1236.20 74.21L1236.33 74.80L1236.47 75.40L1236.61 75.99L1236.74 76.59L1236.87 77.19L1237.00 77.78L1237.13 78.38L1237.26 78.98L1237.39 79.57L1237.52 80.17L1237.65 80.76L1237.78 81.36L1237.90 81.96L1238.03 82.55L1238.16 83.15L1238.28 83.75L1238.40 84.34L1238.52 84.94L1238.64 85.54L1238.76 86.13L1238.88 86.73L1239.00 87.33L1239.11 87.93L1239.23 88.52L1239.35 89.12L1239.46 89.72L1239.58 90.32L1239.69 90.91L1239.81 91.51L1239.93 92.11L1240.04 92.70L1240.16 93.30L1240.28 93.90L1240.40 94.50L1240.52 95.09L1240.64 95.69L1240.76 96.29L1240.88 96.88L1241.01 97.48L1241.13 98.08L1241.25 98.67L1241.37 99.27L1241.49 99.87L1241.61 100.46L1241.73 101.06L1241.85 101.66L1241.98 102.25L1242.10 102.85L1242.22 103.45L1242.34 104.05L1242.46 104.64L1242.59 105.24L1242.71 105.84L1242.83 106.43L1242.96 107.03L1243.08 107.63L1243.20 108.22L1243.33 108.82L1243.45 109.42L1243.57 110.01L1243.70 110.61L1243.82 111.21L1243.95 111.80L1244.07 112.40L1244.20 113.00L1244.32 113.59L1244.45 114.19L1244.57 114.78L1244.70 115.38L1244.83 115.98L1244.96 116.57L1245.08 117.17L1245.21 117.77L1245.34 118.36L1245.47 118.96L1245.60 119.56L1245.72 120.15L1245.85 120.75L1245.98 121.35L1246.11 121.94L1246.24 122.54L1246.37 123.13L1246.50 123.73L1246.63 124.33L1246.76 124.92L1246.89 125.52L1247.02 126.11L1247.15 126.71L1247.28 127.31L1247.41 127.90L1247.54 128.50L1247.67 129.10L1247.80 129.69L1247.93 130.29L1248.06 130.88L1248.20 131.48L1248.33 132.08L1248.46 132.67L1248.59 133.27L1248.72 133.86L1248.85 134.46L1248.99 135.06L1249.12 135.65L1249.25 136.25L1249.38 136.84L1249.51 137.44L1249.65 138.04L1249.78 138.63L1249.91 139.23L1250.04 139.83L1250.18 140.42L1250.31 141.02L1250.44 141.61L1250.57 142.21L1250.71 142.81L1250.84 143.40L1250.97 144.00L1251.10 144.59L1251.24 145.19L1251.37 145.78L1251.50 146.38L1251.64 146.98L1251.77 147.57L1251.90 148.17L1252.04 148.76L1252.17 149.36L1252.30 149.96L1252.44 150.55L1252.57 151.15L1252.70 151.74L1252.84 152.34L1252.97 152.94L1253.10 153.53L1253.23 154.13L1253.37 154.72L1253.50 155.32L1253.63 155.92L1253.77 156.51L1253.90 157.11L1254.03 157.70L1254.17 158.30" fill="none" stroke="#0a0a0a" stroke-width="1.45" stroke-linejoin="round" stroke-linecap="butt"/></g>
</g>
<g id="panel-E">
<path d="M47.80 255.00H226.90V439.00H47.80Z" fill="none" stroke="#262626" stroke-width="1.15" stroke-linejoin="miter"/>
<path d="M65.70 439.00v-6.3M65.70 255.00v6.3M142.50 439.00v-6.3M142.50 255.00v6.3M219.30 439.00v-6.3M219.30 255.00v6.3M47.80 439.00h6.3M226.90 439.00h-6.3M47.80 403.95h6.3M226.90 403.95h-6.3M47.80 368.90h6.3M226.90 368.90h-6.3M47.80 333.86h6.3M226.90 333.86h-6.3M47.80 298.81h6.3M226.90 298.81h-6.3M47.80 263.76h6.3M226.90 263.76h-6.3" fill="none" stroke="#262626" stroke-width="1.0" stroke-linecap="butt"/>
<g font-size="14.4" text-anchor="end">
<text x="38.90" y="444.30">0.0</text>
<text x="38.90" y="409.25">0.2</text>
<text x="38.90" y="374.20">0.4</text>
<text x="38.90" y="339.16">0.6</text>
<text x="38.90" y="304.11">0.8</text>
<text x="38.90" y="269.06">1.0</text>
</g>
<g font-size="14.4" text-anchor="middle">
<text x="66.00" y="459.20">18000</text>
<text x="142.80" y="459.20">23000</text>
<text x="219.60" y="459.20">28000</text>
</g>
<text x="137.85" y="482.00" font-size="14.65" text-anchor="middle">Wavenumber / cm<tspan font-size="11.8" dy="-6.7">−1</tspan></text>
<text transform="translate(10.20 346.70) rotate(-90)" font-size="14.4" text-anchor="middle" word-spacing="0">Normalized Response</text>
<text x="142.50" y="279.15" font-size="16.8" text-anchor="start">Spectrum E</text>
<g transform="scale(0.6 1)"><path d="M79.67 420.90L80.22 420.40L80.78 419.90L81.33 419.39L81.88 418.89L82.42 418.38L82.96 417.88L83.50 417.37L84.04 416.86L84.58 416.35L85.11 415.84L85.63 415.33L86.16 414.81L86.68 414.30L87.21 413.79L87.72 413.27L88.24 412.75L88.76 412.24L89.27 411.72L89.78 411.20L90.29 410.68L90.79 410.16L91.29 409.64L91.79 409.11L92.28 408.59L92.78 408.07L93.27 407.54L93.76 407.01L94.24 406.49L94.72 405.96L95.21 405.43L95.69 404.90L96.16 404.37L96.64 403.84L97.11 403.31L97.58 402.78L98.04 402.24L98.51 401.71L98.97 401.17L99.42 400.64L99.88 400.10L100.33 399.56L100.78 399.03L101.23 398.49L101.68 397.95L102.12 397.41L102.56 396.87L103.00 396.32L103.44 395.78L103.87 395.24L104.30 394.69L104.73 394.15L105.16 393.60L105.58 393.06L106.00 392.51L106.42 391.96L106.84 391.42L107.25 390.87L107.66 390.32L108.07 389.77L108.47 389.22L108.88 388.67L109.28 388.11L109.68 387.56L110.08 387.01L110.47 386.46L110.87 385.90L111.26 385.35L111.65 384.79L112.03 384.23L112.41 383.68L112.79 383.12L113.17 382.56L113.54 382.00L113.92 381.44L114.28 380.88L114.65 380.32L115.01 379.76L115.37 379.20L115.73 378.64L116.08 378.07L116.44 377.51L116.79 376.95L117.14 376.38L117.49 375.82L117.84 375.25L118.18 374.68L118.53 374.12L118.87 373.55L119.20 372.98L119.54 372.42L119.87 371.85L120.20 371.28L120.53 370.71L120.85 370.14L121.18 369.57L121.49 369.00L121.81 368.43L122.12 367.85L122.43 367.28L122.74 366.71L123.04 366.14L123.35 365.56L123.65 364.99L123.95 364.41L124.24 363.84L124.54 363.26L124.83 362.68L125.12 362.11L125.40 361.53L125.69 360.95L125.97 360.37L126.25 359.80L126.53 359.22L126.81 358.64L127.08 358.06L127.35 357.48L127.62 356.90L127.89 356.32L128.15 355.74L128.42 355.15L128.67 354.57L128.93 353.99L129.19 353.41L129.44 352.83L129.69 352.24L129.93 351.66L130.18 351.08L130.42 350.49L130.66 349.91L130.89 349.32L131.13 348.73L131.36 348.15L131.59 347.56L131.82 346.98L132.05 346.39L132.28 345.80L132.51 345.22L132.73 344.63L132.96 344.04L133.19 343.46L133.41 342.87L133.64 342.28L133.86 341.70L134.08 341.11L134.30 340.52L134.52 339.93L134.74 339.34L134.95 338.76L135.17 338.17L135.38 337.58L135.60 336.99L135.81 336.40L136.03 335.81L136.24 335.23L136.46 334.64L136.68 334.05L136.89 333.46L137.11 332.88L137.33 332.29L137.56 331.70L137.78 331.11L138.01 330.53L138.23 329.94L138.45 329.35L138.67 328.76L138.90 328.18L139.12 327.59L139.35 327.00L139.57 326.42L139.80 325.83L140.03 325.24L140.26 324.66L140.49 324.07L140.73 323.49L140.97 322.90L141.21 322.32L141.45 321.73L141.69 321.15L141.94 320.56L142.19 319.98L142.44 319.40L142.70 318.82L142.95 318.23L143.21 317.65L143.47 317.07L143.74 316.49L144.00 315.91L144.27 315.33L144.54 314.75L144.82 314.17L145.10 313.59L145.38 313.01L145.66 312.43L145.95 311.86L146.24 311.28L146.53 310.70L146.83 310.13L147.13 309.56L147.44 308.98L147.75 308.41L148.07 307.84L148.39 307.27L148.71 306.70L149.04 306.13L149.37 305.56L149.71 304.99L150.05 304.42L150.39 303.86L150.73 303.29L151.08 302.73L151.44 302.16L151.79 301.60L152.16 301.04L152.52 300.48L152.90 299.92L153.28 299.36L153.67 298.81L154.06 298.25L154.46 297.70L154.86 297.15L155.26 296.60L155.68 296.05L156.09 295.50L156.51 294.95L156.94 294.41L157.37 293.87L157.81 293.32L158.25 292.78L158.69 292.24L159.14 291.70L159.59 291.16L160.05 290.62L160.50 290.09L160.97 289.55L161.43 289.02L161.90 288.49L162.37 287.96L162.84 287.43L163.32 286.90L163.81 286.37L164.30 285.84L164.79 285.32L165.28 284.79L165.78 284.27L166.28 283.75L166.79 283.23L167.30 282.71L167.80 282.19L168.31 281.67L168.82 281.15L169.34 280.63L169.85 280.12L170.36 279.60L170.88 279.08L171.40 278.57L171.92 278.05L172.45 277.54L172.97 277.02L173.50 276.51L174.04 276.00L174.58 275.50L175.12 274.99L175.67 274.49L176.23 273.99L176.79 273.49L177.35 272.98L177.90 272.48L178.46 271.97L179.03 271.46L179.60 270.96L180.18 270.46L180.76 269.97L181.36 269.49L181.98 269.01L182.61 268.55L183.26 268.10L183.92 267.66L184.62 267.24L185.34 266.81L186.09 266.40L186.87 266.00L187.67 265.63L188.50 265.30L189.34 265.00L190.23 264.69L191.15 264.42L192.09 264.18L193.04 264.02L194.00 263.92L194.98 263.83L195.98 263.75L197.00 263.68L198.01 263.63L199.02 263.60L200.02 263.59L201.01 263.62L202.01 263.69L203.01 263.79L204.01 263.91L204.99 264.05L205.97 264.19L206.94 264.34L207.89 264.50L208.84 264.69L209.79 264.90L210.72 265.14L211.65 265.39L212.56 265.66L213.45 265.94L214.33 266.22L215.19 266.51L216.04 266.83L216.88 267.16L217.70 267.51L218.51 267.88L219.31 268.25L220.10 268.63L220.87 269.01L221.64 269.40L222.39 269.79L223.13 270.20L223.85 270.62L224.56 271.04L225.27 271.47L225.98 271.90L226.68 272.34L227.38 272.77L228.09 273.20L228.81 273.62L229.56 274.04L230.32 274.45L231.07 274.86L231.80 275.29L232.47 275.72L233.08 276.18L233.62 276.67L234.13 277.18L234.62 277.72L235.06 278.28L235.45 278.85L235.75 279.42L235.98 279.98L236.19 280.56L236.38 281.14L236.55 281.73L236.70 282.33L236.85 282.93L236.98 283.53L237.10 284.14L237.22 284.74L237.34 285.35L237.45 285.95L237.56 286.55L237.68 287.15L237.79 287.75L237.90 288.35L238.01 288.95L238.12 289.55L238.22 290.14L238.32 290.74L238.41 291.34L238.51 291.94L238.60 292.54L238.69 293.14L238.78 293.74L238.87 294.34L238.96 294.94L239.05 295.54L239.13 296.14L239.22 296.74L239.31 297.34L239.40 297.94L239.49 298.54L239.58 299.14L239.67 299.74L239.76 300.34L239.85 300.94L239.94 301.54L240.03 302.14L240.11 302.74L240.20 303.34L240.27 303.94L240.35 304.54L240.41 305.14L240.48 305.75L240.53 306.35L240.59 306.95L240.64 307.55L240.69 308.15L240.73 308.75L240.78 309.35L240.82 309.95L240.87 310.56L240.91 311.16L240.95 311.76L240.99 312.36L241.02 312.96L241.06 313.57L241.10 314.17L241.13 314.77L241.17 315.37L241.21 315.97L241.24 316.58L241.28 317.18L241.32 317.78L241.36 318.38L241.40 318.98L241.43 319.58L241.47 320.19L241.51 320.79L241.55 321.39L241.58 321.99L241.62 322.59L241.66 323.20L241.70 323.80L241.73 324.40L241.77 325.00L241.80 325.60L241.84 326.20L241.88 326.81L241.91 327.41L241.95 328.01L241.98 328.61L242.02 329.21L242.05 329.82L242.09 330.42L242.12 331.02L242.15 331.62L242.19 332.22L242.22 332.83L242.26 333.43L242.29 334.03L242.32 334.63L242.35 335.23L242.39 335.83L242.42 336.44L242.45 337.04L242.48 337.64L242.51 338.24L242.54 338.84L242.57 339.45L242.61 340.05L242.64 340.65L242.67 341.25L242.70 341.85L242.73 342.46L242.76 343.06L242.79 343.66L242.82 344.26L242.85 344.86L242.88 345.47L242.91 346.07L242.94 346.67L242.97 347.27L243.00 347.87L243.03 348.48L243.06 349.08L243.09 349.68L243.12 350.28L243.15 350.88L243.18 351.48L243.21 352.09L243.24 352.69L243.27 353.29L243.30 353.89L243.33 354.49L243.36 355.10L243.39 355.70L243.41 356.30L243.44 356.90L243.47 357.50L243.50 358.11L243.53 358.71L243.56 359.31L243.59 359.91L243.61 360.51L243.64 361.12L243.67 361.72L243.70 362.32L243.72 362.92L243.75 363.52L243.78 364.13L243.81 364.73L243.83 365.33L243.86 365.93L243.89 366.53L243.91 367.14L243.94 367.74L243.97 368.34L243.99 368.94L244.02 369.54L244.04 370.15L244.07 370.75L244.10 371.35L244.12 371.95L244.15 372.55L244.17 373.16L244.20 373.76L244.22 374.36L244.25 374.96L244.27 375.56L244.30 376.17L244.32 376.77L244.35 377.37L244.37 377.97L244.39 378.58L244.42 379.18L244.44 379.78L244.46 380.38L244.49 380.98L244.51 381.59L244.53 382.19L244.56 382.79L244.58 383.39L244.60 383.99L244.62 384.60L244.64 385.20L244.67 385.80L244.69 385.20L244.72 384.59L244.75 383.99L244.77 383.39L244.80 382.79L244.82 382.18L244.85 381.58L244.87 380.98L244.90 380.38L244.93 379.77L244.95 379.17L244.98 378.57L245.00 377.97L245.03 377.36L245.05 376.76L245.08 376.16L245.10 375.56L245.13 374.95L245.15 374.35L245.18 373.75L245.20 373.14L245.22 372.54L245.25 371.94L245.27 371.34L245.30 370.73L245.32 370.13L245.34 369.53L245.37 368.93L245.39 368.32L245.42 367.72L245.44 367.12L245.46 366.52L245.49 365.91L245.51 365.31L245.53 364.71L245.56 364.11L245.58 363.50L245.60 362.90L245.63 362.30L245.65 361.69L245.67 361.09L245.70 360.49L245.72 359.89L245.74 359.28L245.76 358.68L245.79 358.08L245.81 357.48L245.83 356.87L245.85 356.27L245.88 355.67L245.90 355.07L245.92 354.46L245.94 353.86L245.96 353.26L245.99 352.65L246.01 352.05L246.03 351.45L246.05 350.85L246.07 350.24L246.09 349.64L246.12 349.04L246.14 348.44L246.16 347.83L246.18 347.23L246.20 346.63L246.22 346.03L246.24 345.42L246.27 344.82L246.29 344.22L246.31 343.61L246.33 343.01L246.35 342.41L246.37 341.81L246.39 341.20L246.41 340.60L246.43 340.00L246.45 339.40L246.47 338.79L246.49 338.19L246.51 337.59L246.53 336.99L246.55 336.38L246.57 335.78L246.59 335.18L246.61 334.57L246.63 333.97L246.65 333.37L246.67 332.77L246.69 332.16L246.71 331.56L246.73 330.96L246.74 330.36L246.76 329.75L246.78 329.15L246.80 328.55L246.82 327.94L246.84 327.34L246.85 326.74L246.87 326.14L246.89 325.53L246.91 324.93L246.93 324.33L246.95 323.73L246.97 323.12L246.98 322.52L247.00 321.92L247.02 321.31L247.04 320.71L247.06 320.11L247.07 319.51L247.09 318.90L247.11 318.30L247.12 317.70L247.14 317.10L247.15 316.49L247.17 315.89L247.18 315.29L247.20 314.68L247.22 314.08L247.23 313.48L247.25 312.88L247.27 312.27L247.29 311.67L247.30 311.07L247.32 310.46L247.34 309.86L247.37 309.26L247.39 308.66L247.41 308.05L247.44 307.45L247.46 306.85L247.49 306.25L247.52 305.64L247.55 305.04L247.58 304.44L247.62 303.84L247.65 303.23L247.69 302.63L247.74 302.03L247.78 301.43L247.83 300.82L247.89 300.22L247.94 299.62L248.00 299.02L248.06 298.42L248.13 297.82L248.20 297.21L248.27 296.60L248.35 295.98L248.43 295.35L248.53 294.73L248.64 294.11L248.77 293.51L248.93 292.92L249.11 292.36L249.32 291.83L249.72 291.24L250.39 290.65L251.15 290.25L251.88 290.24L252.67 290.49L253.50 290.90L254.33 291.39L255.10 291.86L255.80 292.29L256.47 292.72L257.12 293.18L257.74 293.65L258.35 294.14L258.94 294.63L259.53 295.13L260.11 295.63L260.70 296.12L261.29 296.62L261.88 297.10L262.47 297.59L263.07 298.08L263.65 298.56L264.24 299.05L264.82 299.54L265.40 300.04L265.98 300.53L266.56 301.03L267.13 301.52L267.70 302.02L268.27 302.52L268.83 303.01L269.39 303.51L269.95 304.02L270.50 304.52L271.05 305.02L271.60 305.53L272.15 306.03L272.69 306.54L273.23 307.05L273.77 307.56L274.31 308.07L274.84 308.58L275.37 309.09L275.90 309.60L276.43 310.12L276.95 310.63L277.47 311.15L277.99 311.66L278.50 312.18L279.01 312.70L279.53 313.22L280.03 313.74L280.54 314.26L281.04 314.78L281.54 315.30L282.04 315.83L282.54 316.35L283.04 316.88L283.53 317.40L284.02 317.93L284.51 318.45L285.00 318.98L285.48 319.51L285.96 320.04L286.45 320.57L286.92 321.10L287.40 321.63L287.88 322.16L288.35 322.69L288.82 323.22L289.29 323.76L289.76 324.29L290.22 324.82L290.69 325.36L291.15 325.89L291.61 326.43L292.07 326.97L292.52 327.50L292.98 328.04L293.43 328.58L293.88 329.12L294.34 329.65L294.78 330.19L295.23 330.73L295.68 331.27L296.12 331.81L296.57 332.36L297.01 332.90L297.45 333.44L297.89 333.98L298.33 334.52L298.76 335.07L299.20 335.61L299.64 336.15L300.07 336.70L300.50 337.24L300.94 337.78L301.37 338.33L301.80 338.87L302.23 339.42L302.66 339.96L303.09 340.51L303.52 341.05L303.95 341.60L304.37 342.14L304.80 342.69L305.22 343.24L305.65 343.78L306.07 344.33L306.49 344.88L306.91 345.42L307.33 345.97L307.75 346.52L308.16 347.07L308.58 347.62L309.00 348.16L309.42 348.71L309.84 349.26L310.25 349.81L310.67 350.36L311.09 350.91L311.50 351.46L311.92 352.00L312.34 352.55L312.76 353.10L313.18 353.65L313.60 354.20L314.01 354.74L314.43 355.29L314.85 355.84L315.26 356.39L315.68 356.94L316.09 357.49L316.51 358.04L316.92 358.59L317.34 359.13L317.75 359.68L318.17 360.23L318.58 360.78L319.00 361.33L319.42 361.88L319.83 362.43L320.25 362.97L320.67 363.52L321.09 364.07L321.51 364.62L321.93 365.17L322.35 365.71L322.78 366.26L323.20 366.81L323.63 367.35L324.05 367.90L324.48 368.44L324.90 368.99L325.33 369.54L325.75 370.08L326.18 370.63L326.61 371.17L327.04 371.72L327.46 372.26L327.89 372.81L328.33 373.35L328.76 373.90L329.19 374.44L329.63 374.99L330.06 375.53L330.50 376.07L330.94 376.61L331.38 377.15L331.82 377.70L332.27 378.24L332.71 378.78L333.16 379.32L333.61 379.86L334.06 380.40L334.50 380.93L334.96 381.47L335.41 382.01L335.86 382.55L336.32 383.09L336.77 383.63L337.23 384.16L337.69 384.70L338.15 385.23L338.61 385.77L339.08 386.30L339.55 386.84L340.01 387.37L340.48 387.90L340.96 388.44L341.43 388.97L341.91 389.50L342.38 390.03L342.86 390.56L343.35 391.09L343.83 391.61L344.32 392.14L344.80 392.67L345.29 393.20L345.79 393.72L346.28 394.25L346.78 394.77L347.28 395.29L347.78 395.82L348.28 396.34L348.79 396.86L349.30 397.38L349.81 397.90L350.32 398.42L350.83 398.93L351.35 399.45L351.87 399.96L352.40 400.48L352.92 400.99L353.45 401.51L353.98 402.02L354.51 402.53L355.05 403.04L355.59 403.55L356.13 404.06L356.67 404.57L357.22 405.07L357.76 405.58L358.32 406.08L358.87 406.58L359.43 407.09L359.98 407.59L360.55 408.09L361.11 408.58L361.68 409.08L362.25 409.58L362.83 410.07L363.40 410.56L363.98 411.06L364.57 411.55L365.15 412.04L365.74 412.53L366.34 413.01L366.93 413.50L367.53 413.99L368.13 414.47L368.73 414.95L369.34 415.43L369.95 415.91L370.56 416.39L371.17 416.86L371.79 417.34L372.42 417.81L373.04 418.28L373.67 418.75L374.31 419.22L374.94 419.69L375.58 420.15L376.22 420.62L376.87 421.08L377.52 421.54L378.17 422.00" fill="none" stroke="#0a0a0a" stroke-width="1.45" stroke-linejoin="round" stroke-linecap="butt"/></g>
</g>
<g id="panel-F">
<path d="M310.70 255.00H489.80V439.00H310.70Z" fill="none" stroke="#262626" stroke-width="1.15" stroke-linejoin="miter"/>
<path d="M325.70 439.00v-6.3M325.70 255.00v6.3M391.40 439.00v-6.3M391.40 255.00v6.3M457.10 439.00v-6.3M457.10 255.00v6.3M310.70 439.00h6.3M489.80 439.00h-6.3M310.70 403.95h6.3M489.80 403.95h-6.3M310.70 368.90h6.3M489.80 368.90h-6.3M310.70 333.86h6.3M489.80 333.86h-6.3M310.70 298.81h6.3M489.80 298.81h-6.3M310.70 263.76h6.3M489.80 263.76h-6.3" fill="none" stroke="#262626" stroke-width="1.0" stroke-linecap="butt"/>
<g font-size="14.4" text-anchor="end">
<text x="301.80" y="444.30">0.0</text>
<text x="301.80" y="409.25">0.2</text>
<text x="301.80" y="374.20">0.4</text>
<text x="301.80" y="339.16">0.6</text>
<text x="301.80" y="304.11">0.8</text>
<text x="301.80" y="269.06">1.0</text>
</g>
<g font-size="14.4" text-anchor="middle">
<text x="326.00" y="459.20">22000</text>
<text x="391.70" y="459.20">27000</text>
<text x="457.40" y="459.20">32000</text>
</g>
<text x="400.75" y="482.00" font-size="14.65" text-anchor="middle">Wavenumber / cm<tspan font-size="11.8" dy="-6.7">−1</tspan></text>
<text transform="translate(273.10 346.70) rotate(-90)" font-size="14.4" text-anchor="middle" word-spacing="6.2">Normalized Response</text>
<text x="403.50" y="279.15" font-size="16.8" text-anchor="start">Spectrum F</text>
<g transform="scale(0.6 1)"><path d="M517.83 425.50L518.17 424.93L518.51 424.37L518.85 423.80L519.19 423.23L519.53 422.67L519.86 422.10L520.20 421.53L520.53 420.96L520.87 420.40L521.20 419.83L521.53 419.26L521.86 418.69L522.19 418.12L522.52 417.56L522.85 416.99L523.18 416.42L523.51 415.85L523.83 415.28L524.16 414.71L524.49 414.14L524.81 413.57L525.14 413.00L525.46 412.43L525.78 411.86L526.10 411.29L526.42 410.72L526.75 410.15L527.07 409.58L527.39 409.01L527.70 408.44L528.02 407.87L528.34 407.30L528.66 406.73L528.97 406.16L529.29 405.59L529.61 405.01L529.92 404.44L530.23 403.87L530.55 403.30L530.86 402.73L531.17 402.16L531.49 401.58L531.80 401.01L532.11 400.44L532.42 399.87L532.73 399.30L533.04 398.72L533.35 398.15L533.66 397.58L533.97 397.00L534.28 396.43L534.59 395.86L534.89 395.29L535.20 394.71L535.51 394.14L535.81 393.57L536.12 392.99L536.43 392.42L536.73 391.85L537.04 391.27L537.34 390.70L537.65 390.13L537.95 389.55L538.25 388.98L538.56 388.41L538.86 387.83L539.16 387.26L539.47 386.68L539.77 386.11L540.07 385.54L540.37 384.96L540.68 384.39L540.98 383.81L541.28 383.24L541.58 382.67L541.88 382.09L542.18 381.52L542.49 380.94L542.79 380.37L543.09 379.79L543.39 379.22L543.69 378.65L543.99 378.07L544.29 377.50L544.59 376.92L544.89 376.35L545.19 375.77L545.49 375.20L545.79 374.62L546.09 374.05L546.39 373.48L546.69 372.90L546.99 372.33L547.29 371.75L547.59 371.18L547.89 370.60L548.19 370.03L548.49 369.45L548.79 368.88L549.09 368.30L549.39 367.73L549.69 367.16L549.99 366.58L550.29 366.01L550.59 365.43L550.89 364.86L551.20 364.28L551.50 363.71L551.80 363.14L552.10 362.56L552.40 361.99L552.70 361.41L553.00 360.84L553.31 360.27L553.61 359.69L553.91 359.12L554.21 358.54L554.52 357.97L554.82 357.40L555.12 356.82L555.43 356.25L555.73 355.67L556.04 355.10L556.34 354.53L556.65 353.95L556.95 353.38L557.26 352.81L557.56 352.23L557.87 351.66L558.18 351.09L558.48 350.51L558.79 349.94L559.10 349.37L559.41 348.80L559.72 348.22L560.02 347.65L560.33 347.08L560.64 346.50L560.95 345.93L561.27 345.36L561.58 344.79L561.89 344.22L562.20 343.64L562.51 343.07L562.83 342.50L563.14 341.93L563.45 341.36L563.77 340.78L564.08 340.21L564.40 339.64L564.72 339.07L565.03 338.50L565.35 337.93L565.67 337.36L565.99 336.79L566.31 336.22L566.63 335.65L566.95 335.08L567.27 334.51L567.59 333.94L567.91 333.37L568.24 332.80L568.56 332.23L568.88 331.66L569.21 331.09L569.54 330.52L569.86 329.95L570.19 329.38L570.52 328.81L570.85 328.24L571.18 327.67L571.51 327.11L571.84 326.54L572.17 325.97L572.50 325.40L572.83 324.83L573.17 324.27L573.50 323.70L573.84 323.13L574.18 322.56L574.51 322.00L574.85 321.43L575.19 320.86L575.53 320.30L575.87 319.73L576.21 319.16L576.56 318.60L576.90 318.03L577.25 317.47L577.59 316.90L577.94 316.34L578.29 315.77L578.63 315.21L578.98 314.64L579.33 314.08L579.68 313.51L580.04 312.95L580.39 312.39L580.75 311.82L581.10 311.26L581.46 310.70L581.81 310.13L582.17 309.57L582.53 309.01L582.89 308.45L583.26 307.88L583.62 307.32L583.98 306.76L584.35 306.20L584.71 305.64L585.08 305.08L585.45 304.52L585.82 303.96L586.19 303.40L586.56 302.84L586.93 302.28L587.30 301.72L587.67 301.16L588.05 300.60L588.42 300.04L588.79 299.48L589.17 298.92L589.54 298.36L589.91 297.81L590.29 297.25L590.66 296.69L591.03 296.13L591.40 295.58L591.77 295.02L592.14 294.46L592.52 293.91L592.88 293.35L593.25 292.79L593.62 292.24L593.99 291.68L594.35 291.13L594.72 290.57L595.08 290.02L595.44 289.46L595.80 288.91L596.16 288.35L596.52 287.80L596.88 287.25L597.23 286.69L597.58 286.14L597.94 285.59L598.30 285.03L598.65 284.48L599.01 283.93L599.37 283.38L599.74 282.82L600.11 282.27L600.48 281.72L600.86 281.17L601.25 280.62L601.64 280.07L602.04 279.52L602.45 278.97L602.86 278.42L603.29 277.87L603.72 277.32L604.17 276.77L604.62 276.22L605.09 275.67L605.57 275.12L606.06 274.57L606.57 274.02L607.09 273.48L607.62 272.93L608.17 272.38L608.74 271.84L609.32 271.30L609.91 270.77L610.52 270.25L611.14 269.73L611.78 269.23L612.43 268.74L613.10 268.26L613.79 267.79L614.48 267.35L615.20 266.92L615.93 266.50L616.67 266.11L617.43 265.74L618.20 265.40L618.99 265.08L619.80 264.78L620.62 264.52L621.46 264.28L622.31 264.07L623.17 263.89L624.05 263.75L624.94 263.64L625.83 263.57L626.74 263.54L627.65 263.55L628.57 263.60L629.48 263.70L630.40 263.84L631.32 264.02L632.24 264.24L633.15 264.50L634.06 264.78L634.96 265.08L635.85 265.40L636.74 265.73L637.61 266.06L638.47 266.41L639.32 266.75L640.16 267.11L641.00 267.47L641.82 267.83L642.64 268.20L643.45 268.58L644.25 268.96L645.05 269.34L645.84 269.72L646.62 270.11L647.40 270.51L648.17 270.90L648.94 271.30L649.71 271.70L650.47 272.11L651.23 272.51L651.98 272.92L652.73 273.32L653.48 273.73L654.23 274.14L654.98 274.54L655.73 274.95L656.47 275.36L657.22 275.76L657.97 276.17L658.72 276.57L659.47 276.97L660.22 277.37L660.97 277.77L661.72 278.17L662.47 278.56L663.23 278.96L663.98 279.35L664.73 279.75L665.49 280.14L666.24 280.53L666.99 280.93L667.74 281.32L668.49 281.72L669.24 282.11L669.98 282.51L670.73 282.90L671.47 283.30L672.21 283.70L672.95 284.10L673.68 284.50L674.42 284.91L675.15 285.31L675.87 285.72L676.59 286.13L677.31 286.54L678.03 286.95L678.74 287.37L679.45 287.79L680.15 288.22L680.85 288.64L681.54 289.07L682.23 289.51L682.91 289.94L683.59 290.38L684.26 290.83L684.93 291.28L685.59 291.73L686.25 292.19L686.90 292.66L687.54 293.12L688.18 293.59L688.82 294.06L689.45 294.54L690.08 295.01L690.71 295.49L691.33 295.97L691.96 296.45L692.58 296.93L693.20 297.41L693.82 297.90L694.44 298.38L695.06 298.86L695.69 299.34L696.31 299.82L696.93 300.30L697.56 300.77L698.19 301.25L698.82 301.72L699.46 302.19L700.10 302.65L700.74 303.11L701.39 303.57L702.04 304.03L702.70 304.48L703.35 304.93L704.01 305.38L704.67 305.83L705.33 306.28L705.99 306.72L706.64 307.17L707.30 307.62L707.95 308.07L708.60 308.52L709.25 308.98L709.90 309.43L710.54 309.89L711.18 310.35L711.82 310.81L712.45 311.27L713.08 311.74L713.71 312.21L714.34 312.67L714.96 313.14L715.58 313.61L716.20 314.09L716.81 314.56L717.42 315.04L718.03 315.51L718.64 315.99L719.24 316.47L719.84 316.95L720.44 317.44L721.04 317.92L721.63 318.41L722.22 318.89L722.80 319.38L723.39 319.87L723.97 320.36L724.55 320.85L725.12 321.34L725.70 321.84L726.27 322.33L726.83 322.83L727.40 323.32L727.96 323.82L728.52 324.32L729.08 324.82L729.63 325.32L730.19 325.82L730.74 326.32L731.29 326.82L731.84 327.33L732.38 327.83L732.92 328.34L733.47 328.84L734.01 329.35L734.55 329.86L735.08 330.36L735.62 330.87L736.15 331.38L736.69 331.89L737.22 332.40L737.75 332.91L738.28 333.42L738.81 333.93L739.34 334.45L739.87 334.96L740.39 335.47L740.92 335.98L741.45 336.49L741.97 337.01L742.50 337.52L743.02 338.03L743.55 338.55L744.07 339.06L744.59 339.58L745.12 340.09L745.64 340.60L746.17 341.12L746.69 341.63L747.22 342.15L747.74 342.66L748.27 343.17L748.79 343.69L749.31 344.20L749.84 344.72L750.36 345.23L750.89 345.75L751.41 346.26L751.93 346.78L752.45 347.29L752.98 347.81L753.50 348.32L754.02 348.84L754.54 349.35L755.06 349.87L755.58 350.39L756.10 350.90L756.62 351.42L757.14 351.93L757.66 352.45L758.18 352.97L758.70 353.49L759.21 354.00L759.73 354.52L760.25 355.04L760.76 355.56L761.27 356.07L761.79 356.59L762.30 357.11L762.81 357.63L763.32 358.15L763.83 358.67L764.34 359.19L764.85 359.71L765.36 360.23L765.87 360.75L766.37 361.27L766.88 361.79L767.38 362.31L767.88 362.83L768.39 363.35L768.89 363.87L769.39 364.40L769.88 364.92L770.38 365.44L770.88 365.96L771.37 366.49L771.86 367.01L772.36 367.54L772.85 368.06L773.34 368.58L773.83 369.11L774.31 369.64L774.80 370.16L775.28 370.69L775.76 371.21L776.25 371.74L776.73 372.27L777.20 372.80L777.68 373.32L778.16 373.85L778.63 374.38L779.10 374.91L779.57 375.44L780.04 375.97L780.51 376.50L780.97 377.03L781.43 377.56L781.90 378.09L782.36 378.63L782.81 379.16L783.27 379.69L783.72 380.23L784.18 380.76L784.63 381.29L785.08 381.83L785.52 382.36L785.97 382.90L786.41 383.44L786.85 383.97L787.29 384.51L787.73 385.05L788.16 385.59L788.60 386.12L789.03 386.66L789.47 387.20L789.90 387.74L790.34 388.28L790.77 388.82L791.21 389.36L791.64 389.89L792.08 390.43L792.52 390.97L792.96 391.51L793.40 392.05L793.84 392.59L794.29 393.12L794.74 393.66L795.19 394.20L795.65 394.73L796.10 395.27L796.57 395.80L797.03 396.34L797.50 396.87L797.97 397.41L798.45 397.94L798.94 398.47L799.42 399.00L799.92 399.53L800.42 400.06L800.92 400.59L801.43 401.12L801.95 401.64L802.47 402.17L803.00 402.69L803.54 403.21L804.08 403.74L804.62 404.26L805.17 404.77L805.72 405.29L806.28 405.81L806.83 406.32L807.39 406.84L807.95 407.35L808.51 407.86L809.07 408.36L809.64 408.87L810.20 409.38L810.75 409.88L811.31 410.38L811.87 410.88L812.42 411.38L812.97 411.87L813.51 412.37L814.06 412.86L814.59 413.35L815.12 413.83L815.65 414.32L816.17 414.80" fill="none" stroke="#0a0a0a" stroke-width="1.45" stroke-linejoin="round" stroke-linecap="butt"/></g>
</g>
<g id="panel-G">
<path d="M573.50 255.00H752.60V439.00H573.50Z" fill="none" stroke="#262626" stroke-width="1.15" stroke-linejoin="miter"/>
<path d="M588.70 439.00v-6.3M588.70 255.00v6.3M654.30 439.00v-6.3M654.30 255.00v6.3M719.90 439.00v-6.3M719.90 255.00v6.3M573.50 439.00h6.3M752.60 439.00h-6.3M573.50 403.95h6.3M752.60 403.95h-6.3M573.50 368.90h6.3M752.60 368.90h-6.3M573.50 333.86h6.3M752.60 333.86h-6.3M573.50 298.81h6.3M752.60 298.81h-6.3M573.50 263.76h6.3M752.60 263.76h-6.3" fill="none" stroke="#262626" stroke-width="1.0" stroke-linecap="butt"/>
<g font-size="14.4" text-anchor="end">
<text x="564.60" y="444.30">0.0</text>
<text x="564.60" y="409.25">0.2</text>
<text x="564.60" y="374.20">0.4</text>
<text x="564.60" y="339.16">0.6</text>
<text x="564.60" y="304.11">0.8</text>
<text x="564.60" y="269.06">1.0</text>
</g>
<g font-size="14.4" text-anchor="middle">
<text x="589.00" y="459.20">22000</text>
<text x="654.60" y="459.20">27000</text>
<text x="720.20" y="459.20">32000</text>
</g>
<text x="663.55" y="482.00" font-size="14.65" text-anchor="middle">Wavenumber / cm<tspan font-size="11.8" dy="-6.7">−1</tspan></text>
<text transform="translate(535.90 346.70) rotate(-90)" font-size="14.4" text-anchor="middle" word-spacing="6.2">Normalized Response</text>
<text x="666.20" y="279.15" font-size="16.8" text-anchor="start">Spectrum G</text>
<g transform="scale(0.6 1)"><path d="M955.83 425.50L956.16 424.93L956.48 424.36L956.81 423.79L957.13 423.22L957.46 422.65L957.78 422.08L958.10 421.51L958.43 420.94L958.75 420.37L959.07 419.80L959.39 419.23L959.72 418.66L960.04 418.09L960.36 417.52L960.68 416.95L961.00 416.38L961.32 415.81L961.64 415.24L961.96 414.67L962.28 414.10L962.60 413.53L962.92 412.95L963.24 412.38L963.56 411.81L963.88 411.24L964.20 410.67L964.52 410.10L964.84 409.53L965.16 408.96L965.47 408.39L965.79 407.82L966.11 407.25L966.43 406.67L966.74 406.10L967.06 405.53L967.38 404.96L967.69 404.39L968.01 403.82L968.32 403.25L968.64 402.67L968.95 402.10L969.27 401.53L969.58 400.96L969.90 400.39L970.21 399.82L970.53 399.25L970.84 398.67L971.16 398.10L971.47 397.53L971.78 396.96L972.10 396.39L972.41 395.82L972.72 395.24L973.04 394.67L973.35 394.10L973.66 393.53L973.97 392.96L974.29 392.39L974.60 391.81L974.91 391.24L975.22 390.67L975.53 390.10L975.84 389.53L976.15 388.95L976.47 388.38L976.78 387.81L977.09 387.24L977.40 386.67L977.71 386.09L978.02 385.52L978.33 384.95L978.64 384.38L978.95 383.81L979.26 383.24L979.56 382.66L979.87 382.09L980.18 381.52L980.49 380.95L980.80 380.38L981.11 379.80L981.42 379.23L981.72 378.66L982.03 378.09L982.34 377.52L982.65 376.94L982.96 376.37L983.26 375.80L983.57 375.23L983.88 374.66L984.18 374.08L984.49 373.51L984.80 372.94L985.10 372.37L985.41 371.80L985.72 371.22L986.02 370.65L986.33 370.08L986.63 369.51L986.94 368.94L987.25 368.37L987.55 367.79L987.86 367.22L988.16 366.65L988.47 366.08L988.77 365.51L989.08 364.93L989.38 364.36L989.69 363.79L989.99 363.22L990.30 362.65L990.60 362.08L990.91 361.51L991.21 360.93L991.51 360.36L991.82 359.79L992.12 359.22L992.43 358.65L992.73 358.08L993.03 357.50L993.34 356.93L993.64 356.36L993.94 355.79L994.25 355.22L994.55 354.65L994.85 354.08L995.16 353.51L995.46 352.94L995.76 352.36L996.06 351.79L996.37 351.22L996.67 350.65L996.97 350.08L997.27 349.51L997.58 348.94L997.88 348.37L998.18 347.80L998.48 347.23L998.79 346.66L999.09 346.08L999.39 345.51L999.70 344.94L1000.00 344.37L1000.30 343.80L1000.61 343.23L1000.91 342.66L1001.21 342.09L1001.52 341.52L1001.82 340.95L1002.13 340.38L1002.43 339.81L1002.74 339.24L1003.04 338.67L1003.35 338.10L1003.66 337.53L1003.96 336.96L1004.27 336.39L1004.58 335.82L1004.89 335.25L1005.20 334.68L1005.51 334.11L1005.82 333.54L1006.13 332.97L1006.44 332.40L1006.75 331.84L1007.07 331.27L1007.38 330.70L1007.69 330.13L1008.01 329.56L1008.33 328.99L1008.64 328.42L1008.96 327.85L1009.28 327.28L1009.60 326.72L1009.92 326.15L1010.24 325.58L1010.57 325.01L1010.89 324.44L1011.22 323.87L1011.55 323.30L1011.88 322.74L1012.21 322.17L1012.54 321.60L1012.87 321.03L1013.21 320.46L1013.55 319.90L1013.88 319.33L1014.22 318.76L1014.57 318.19L1014.91 317.63L1015.26 317.06L1015.60 316.49L1015.95 315.92L1016.31 315.36L1016.66 314.79L1017.02 314.22L1017.37 313.66L1017.73 313.09L1018.10 312.52L1018.46 311.96L1018.82 311.39L1019.19 310.82L1019.56 310.26L1019.93 309.69L1020.30 309.13L1020.67 308.56L1021.05 307.99L1021.42 307.43L1021.80 306.86L1022.18 306.30L1022.55 305.73L1022.93 305.16L1023.31 304.60L1023.69 304.03L1024.07 303.47L1024.45 302.90L1024.83 302.34L1025.22 301.77L1025.60 301.21L1025.98 300.64L1026.36 300.08L1026.74 299.52L1027.12 298.95L1027.51 298.39L1027.89 297.82L1028.27 297.26L1028.65 296.70L1029.03 296.13L1029.41 295.57L1029.79 295.00L1030.16 294.44L1030.54 293.88L1030.92 293.31L1031.29 292.75L1031.66 292.19L1032.04 291.63L1032.41 291.06L1032.78 290.50L1033.14 289.94L1033.51 289.37L1033.88 288.81L1034.24 288.25L1034.60 287.69L1034.96 287.13L1035.32 286.56L1035.68 286.00L1036.03 285.44L1036.39 284.88L1036.75 284.32L1037.11 283.77L1037.47 283.21L1037.84 282.66L1038.20 282.10L1038.57 281.55L1038.95 281.00L1039.33 280.45L1039.72 279.91L1040.11 279.37L1040.51 278.83L1040.91 278.29L1041.33 277.76L1041.75 277.22L1042.18 276.70L1042.62 276.17L1043.07 275.65L1043.53 275.14L1044.00 274.62L1044.48 274.12L1044.98 273.61L1045.48 273.11L1046.01 272.62L1046.54 272.13L1047.09 271.65L1047.66 271.17L1048.24 270.69L1048.83 270.22L1049.45 269.76L1050.08 269.30L1050.73 268.85L1051.39 268.41L1052.08 267.97L1052.79 267.54L1053.51 267.12L1054.26 266.70L1055.03 266.29L1055.82 265.89L1056.63 265.49L1057.46 265.12L1058.31 264.76L1059.17 264.42L1060.05 264.12L1060.94 263.84L1061.84 263.61L1062.75 263.41L1063.66 263.26L1064.58 263.16L1065.51 263.12L1066.43 263.14L1067.35 263.22L1068.27 263.36L1069.18 263.58L1070.08 263.86L1070.98 264.18L1071.87 264.54L1072.75 264.92L1073.62 265.32L1074.49 265.72L1075.35 266.11L1076.21 266.49L1077.05 266.87L1077.90 267.25L1078.73 267.62L1079.56 267.99L1080.39 268.35L1081.21 268.72L1082.02 269.09L1082.83 269.46L1083.63 269.83L1084.43 270.20L1085.23 270.57L1086.01 270.95L1086.80 271.32L1087.58 271.70L1088.35 272.08L1089.12 272.46L1089.89 272.84L1090.65 273.23L1091.41 273.61L1092.16 274.00L1092.91 274.39L1093.66 274.77L1094.40 275.16L1095.14 275.55L1095.88 275.94L1096.61 276.34L1097.34 276.73L1098.07 277.12L1098.80 277.52L1099.52 277.91L1100.24 278.31L1100.96 278.71L1101.67 279.11L1102.39 279.51L1103.10 279.92L1103.81 280.32L1104.52 280.73L1105.22 281.14L1105.93 281.56L1106.63 281.98L1107.34 282.39L1108.04 282.82L1108.74 283.24L1109.44 283.67L1110.14 284.10L1110.84 284.54L1111.54 284.98L1112.24 285.42L1112.94 285.87L1113.63 286.32L1114.33 286.78L1115.03 287.24L1115.73 287.70L1116.43 288.16L1117.13 288.63L1117.83 289.10L1118.53 289.56L1119.23 290.03L1119.93 290.49L1120.64 290.95L1121.34 291.41L1122.04 291.85L1122.75 292.30L1123.45 292.73L1124.16 293.16L1124.86 293.58L1125.57 293.98L1126.28 294.38L1126.99 294.76L1127.70 295.13L1128.41 295.50L1129.12 295.85L1129.83 296.21L1130.55 296.56L1131.26 296.92L1131.98 297.28L1132.70 297.65L1133.42 298.03L1134.14 298.43L1134.86 298.84L1135.58 299.28L1136.31 299.73L1137.02 300.21L1137.70 300.72L1138.33 301.24L1138.88 301.79L1139.35 302.35L1139.74 302.92L1140.06 303.51L1140.33 304.10L1140.58 304.69L1140.83 305.27L1141.09 305.84L1141.37 306.40L1141.69 306.94L1142.06 307.46L1142.48 307.97L1142.96 308.46L1143.50 308.94L1144.13 309.39L1144.82 309.83L1145.56 310.24L1146.34 310.64L1147.15 311.01L1147.96 311.37L1148.79 311.72L1149.62 312.07L1150.43 312.42L1151.23 312.78L1152.01 313.16L1152.76 313.55L1153.47 313.96L1154.14 314.39L1154.75 314.85L1155.32 315.32L1155.85 315.82L1156.33 316.33L1156.79 316.86L1157.21 317.40L1157.62 317.95L1158.00 318.51L1158.36 319.08L1158.71 319.65L1159.06 320.23L1159.40 320.81L1159.74 321.39L1160.09 321.96L1160.45 322.54L1160.83 323.11L1161.22 323.67L1161.63 324.22L1162.05 324.77L1162.49 325.32L1162.94 325.85L1163.41 326.38L1163.89 326.91L1164.38 327.43L1164.88 327.95L1165.40 328.47L1165.92 328.98L1166.45 329.48L1166.99 329.99L1167.53 330.49L1168.08 330.99L1168.64 331.48L1169.20 331.98L1169.76 332.47L1170.33 332.97L1170.90 333.46L1171.47 333.95L1172.05 334.44L1172.62 334.93L1173.19 335.43L1173.76 335.92L1174.32 336.41L1174.89 336.91L1175.45 337.40L1176.02 337.90L1176.58 338.40L1177.14 338.89L1177.69 339.39L1178.25 339.89L1178.80 340.39L1179.36 340.89L1179.91 341.39L1180.46 341.90L1181.00 342.40L1181.55 342.90L1182.09 343.41L1182.64 343.91L1183.18 344.42L1183.72 344.93L1184.26 345.43L1184.80 345.94L1185.33 346.45L1185.87 346.96L1186.40 347.47L1186.93 347.98L1187.46 348.49L1187.99 349.00L1188.52 349.51L1189.05 350.03L1189.57 350.54L1190.10 351.05L1190.62 351.57L1191.14 352.08L1191.66 352.60L1192.18 353.11L1192.70 353.63L1193.22 354.14L1193.73 354.66L1194.25 355.18L1194.76 355.70L1195.27 356.21L1195.78 356.73L1196.29 357.25L1196.80 357.77L1197.31 358.29L1197.82 358.81L1198.32 359.33L1198.83 359.85L1199.33 360.37L1199.84 360.89L1200.34 361.42L1200.84 361.94L1201.34 362.46L1201.84 362.98L1202.34 363.51L1202.84 364.03L1203.33 364.55L1203.83 365.08L1204.32 365.60L1204.82 366.12L1205.31 366.65L1205.80 367.17L1206.30 367.70L1206.79 368.22L1207.28 368.75L1207.77 369.27L1208.26 369.80L1208.75 370.32L1209.23 370.85L1209.72 371.37L1210.21 371.90L1210.69 372.43L1211.18 372.95L1211.66 373.48L1212.15 374.00L1212.63 374.53L1213.12 375.06L1213.60 375.58L1214.08 376.11L1214.56 376.64L1215.04 377.16L1215.52 377.69L1216.01 378.21L1216.49 378.74L1216.96 379.27L1217.44 379.79L1217.92 380.32L1218.40 380.84L1218.88 381.37L1219.36 381.89L1219.84 382.42L1220.31 382.94L1220.79 383.47L1221.27 384.00L1221.75 384.52L1222.23 385.04L1222.71 385.57L1223.19 386.09L1223.67 386.62L1224.15 387.14L1224.63 387.67L1225.11 388.19L1225.59 388.71L1226.08 389.23L1226.57 389.76L1227.05 390.28L1227.54 390.80L1228.03 391.32L1228.52 391.85L1229.01 392.37L1229.51 392.89L1230.00 393.41L1230.50 393.93L1231.00 394.45L1231.50 394.97L1232.00 395.49L1232.51 396.00L1233.02 396.52L1233.53 397.04L1234.04 397.56L1234.55 398.07L1235.07 398.59L1235.59 399.11L1236.11 399.62L1236.64 400.14L1237.17 400.65L1237.70 401.17L1238.23 401.68L1238.77 402.19L1239.31 402.71L1239.85 403.22L1240.40 403.73L1240.95 404.24L1241.51 404.75L1242.06 405.26L1242.62 405.77L1243.19 406.28L1243.75 406.78L1244.32 407.29L1244.88 407.80L1245.45 408.30L1246.02 408.81L1246.58 409.31L1247.15 409.82L1247.71 410.32L1248.27 410.82L1248.83 411.32L1249.39 411.83L1249.94 412.33L1250.49 412.83L1251.03 413.32L1251.57 413.82L1252.10 414.32L1252.63 414.82L1253.15 415.31L1253.66 415.81L1254.17 416.30" fill="none" stroke="#0a0a0a" stroke-width="1.45" stroke-linejoin="round" stroke-linecap="butt"/></g>
</g>
</svg>
</body>
</html>
